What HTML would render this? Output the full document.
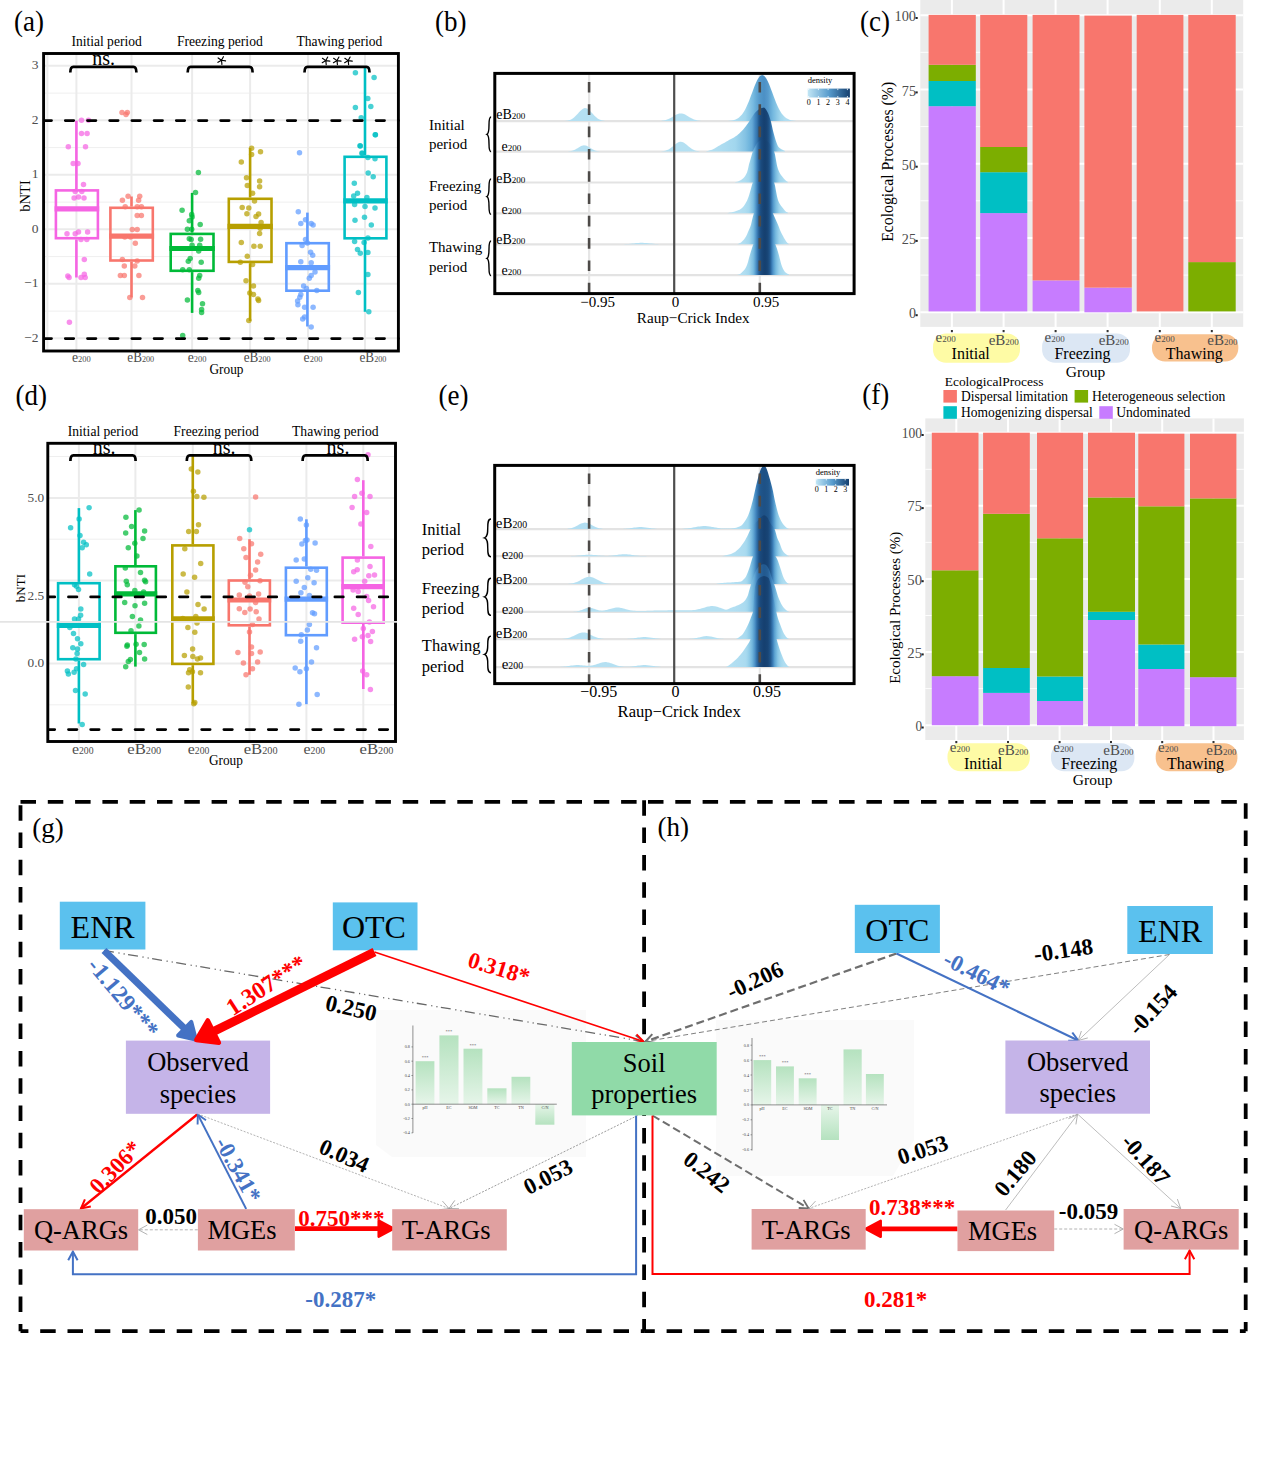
<!DOCTYPE html>
<html><head><meta charset="utf-8"><style>
html,body{margin:0;padding:0;background:#fff;overflow:hidden;}
svg{display:block;}
text{font-family:"Liberation Serif", serif;}
</style></head><body>
<svg width="1270" height="1476" viewBox="0 0 1270 1476">
<rect x="0" y="0" width="1270" height="1476" fill="#fff"/>
<line x1="43.6" y1="311.1" x2="398.4" y2="311.1" stroke="#EFEFEF" stroke-width="1" />
<line x1="43.6" y1="256.6" x2="398.4" y2="256.6" stroke="#EFEFEF" stroke-width="1" />
<line x1="43.6" y1="202.1" x2="398.4" y2="202.1" stroke="#EFEFEF" stroke-width="1" />
<line x1="43.6" y1="147.6" x2="398.4" y2="147.6" stroke="#EFEFEF" stroke-width="1" />
<line x1="43.6" y1="93.1" x2="398.4" y2="93.1" stroke="#EFEFEF" stroke-width="1" />
<line x1="43.6" y1="338.3" x2="398.4" y2="338.3" stroke="#EBEBEB" stroke-width="2" />
<line x1="43.6" y1="283.8" x2="398.4" y2="283.8" stroke="#EBEBEB" stroke-width="2" />
<line x1="43.6" y1="229.3" x2="398.4" y2="229.3" stroke="#EBEBEB" stroke-width="2" />
<line x1="43.6" y1="174.8" x2="398.4" y2="174.8" stroke="#EBEBEB" stroke-width="2" />
<line x1="43.6" y1="120.3" x2="398.4" y2="120.3" stroke="#EBEBEB" stroke-width="2" />
<line x1="43.6" y1="65.8" x2="398.4" y2="65.8" stroke="#EBEBEB" stroke-width="2" />
<line x1="47.4" y1="53.5" x2="47.4" y2="351.0" stroke="#EBEBEB" stroke-width="2" />
<line x1="76.4" y1="53.5" x2="76.4" y2="351.0" stroke="#EBEBEB" stroke-width="2" />
<line x1="131.5" y1="53.5" x2="131.5" y2="351.0" stroke="#EBEBEB" stroke-width="2" />
<line x1="192.1" y1="53.5" x2="192.1" y2="351.0" stroke="#EBEBEB" stroke-width="2" />
<line x1="250.1" y1="53.5" x2="250.1" y2="351.0" stroke="#EBEBEB" stroke-width="2" />
<line x1="308.0" y1="53.5" x2="308.0" y2="351.0" stroke="#EBEBEB" stroke-width="2" />
<line x1="365.0" y1="53.5" x2="365.0" y2="351.0" stroke="#EBEBEB" stroke-width="2" />
<line x1="76.4" y1="120.7" x2="76.4" y2="189.1" stroke="#F564E3" stroke-width="2.6" />
<line x1="76.4" y1="239.5" x2="76.4" y2="277.5" stroke="#F564E3" stroke-width="2.6" />
<rect x="55.9" y="190.4" width="42.0" height="47.8" fill="none" stroke="#F564E3" stroke-width="2.6"/>
<line x1="54.6" y1="208.9" x2="99.2" y2="208.9" stroke="#F564E3" stroke-width="5.2" />
<circle cx="81.5" cy="120.2" r="2.75" fill="#F564E3" fill-opacity="0.72"/>
<circle cx="88.5" cy="120.2" r="2.75" fill="#F564E3" fill-opacity="0.72"/>
<circle cx="81.5" cy="133.6" r="2.75" fill="#F564E3" fill-opacity="0.72"/>
<circle cx="87.1" cy="133.6" r="2.75" fill="#F564E3" fill-opacity="0.72"/>
<circle cx="68.3" cy="146.8" r="2.75" fill="#F564E3" fill-opacity="0.72"/>
<circle cx="85.5" cy="146.8" r="2.75" fill="#F564E3" fill-opacity="0.72"/>
<circle cx="73.2" cy="163.4" r="2.75" fill="#F564E3" fill-opacity="0.72"/>
<circle cx="78.0" cy="163.4" r="2.75" fill="#F564E3" fill-opacity="0.72"/>
<circle cx="83.5" cy="184.4" r="2.75" fill="#F564E3" fill-opacity="0.72"/>
<circle cx="75.2" cy="191.6" r="2.75" fill="#F564E3" fill-opacity="0.72"/>
<circle cx="81.8" cy="191.6" r="2.75" fill="#F564E3" fill-opacity="0.72"/>
<circle cx="74.1" cy="197.9" r="2.75" fill="#F564E3" fill-opacity="0.72"/>
<circle cx="78.5" cy="197.0" r="2.75" fill="#F564E3" fill-opacity="0.72"/>
<circle cx="84.0" cy="197.9" r="2.75" fill="#F564E3" fill-opacity="0.72"/>
<circle cx="67.0" cy="233.7" r="2.75" fill="#F564E3" fill-opacity="0.72"/>
<circle cx="75.2" cy="233.7" r="2.75" fill="#F564E3" fill-opacity="0.72"/>
<circle cx="78.5" cy="232.1" r="2.75" fill="#F564E3" fill-opacity="0.72"/>
<circle cx="87.6" cy="232.1" r="2.75" fill="#F564E3" fill-opacity="0.72"/>
<circle cx="81.0" cy="239.5" r="2.75" fill="#F564E3" fill-opacity="0.72"/>
<circle cx="86.8" cy="239.5" r="2.75" fill="#F564E3" fill-opacity="0.72"/>
<circle cx="84.3" cy="259.4" r="2.75" fill="#F564E3" fill-opacity="0.72"/>
<circle cx="67.8" cy="275.9" r="2.75" fill="#F564E3" fill-opacity="0.72"/>
<circle cx="69.1" cy="277.6" r="2.75" fill="#F564E3" fill-opacity="0.72"/>
<circle cx="81.0" cy="277.6" r="2.75" fill="#F564E3" fill-opacity="0.72"/>
<circle cx="84.3" cy="274.2" r="2.75" fill="#F564E3" fill-opacity="0.72"/>
<circle cx="85.2" cy="277.6" r="2.75" fill="#F564E3" fill-opacity="0.72"/>
<circle cx="69.4" cy="322.2" r="2.75" fill="#F564E3" fill-opacity="0.72"/>
<line x1="131.5" y1="196.5" x2="131.5" y2="206.5" stroke="#F8766D" stroke-width="2.6" />
<line x1="131.5" y1="261.8" x2="131.5" y2="297.4" stroke="#F8766D" stroke-width="2.6" />
<rect x="110.4" y="207.8" width="42.4" height="52.7" fill="none" stroke="#F8766D" stroke-width="2.6"/>
<line x1="109.1" y1="236.2" x2="154.1" y2="236.2" stroke="#F8766D" stroke-width="5.2" />
<circle cx="122.0" cy="112.4" r="2.75" fill="#F8766D" fill-opacity="0.72"/>
<circle cx="127.3" cy="112.4" r="2.75" fill="#F8766D" fill-opacity="0.72"/>
<circle cx="126.0" cy="114.4" r="2.75" fill="#F8766D" fill-opacity="0.72"/>
<circle cx="128.1" cy="196.2" r="2.75" fill="#F8766D" fill-opacity="0.72"/>
<circle cx="139.7" cy="196.2" r="2.75" fill="#F8766D" fill-opacity="0.72"/>
<circle cx="122.4" cy="200.3" r="2.75" fill="#F8766D" fill-opacity="0.72"/>
<circle cx="138.6" cy="200.3" r="2.75" fill="#F8766D" fill-opacity="0.72"/>
<circle cx="125.2" cy="206.8" r="2.75" fill="#F8766D" fill-opacity="0.72"/>
<circle cx="137.2" cy="206.8" r="2.75" fill="#F8766D" fill-opacity="0.72"/>
<circle cx="141.4" cy="206.8" r="2.75" fill="#F8766D" fill-opacity="0.72"/>
<circle cx="137.2" cy="215.5" r="2.75" fill="#F8766D" fill-opacity="0.72"/>
<circle cx="141.4" cy="215.5" r="2.75" fill="#F8766D" fill-opacity="0.72"/>
<circle cx="132.3" cy="229.6" r="2.75" fill="#F8766D" fill-opacity="0.72"/>
<circle cx="137.2" cy="229.6" r="2.75" fill="#F8766D" fill-opacity="0.72"/>
<circle cx="124.8" cy="237.0" r="2.75" fill="#F8766D" fill-opacity="0.72"/>
<circle cx="130.6" cy="237.0" r="2.75" fill="#F8766D" fill-opacity="0.72"/>
<circle cx="135.3" cy="243.2" r="2.75" fill="#F8766D" fill-opacity="0.72"/>
<circle cx="122.4" cy="259.4" r="2.75" fill="#F8766D" fill-opacity="0.72"/>
<circle cx="137.2" cy="261.0" r="2.75" fill="#F8766D" fill-opacity="0.72"/>
<circle cx="124.3" cy="266.0" r="2.75" fill="#F8766D" fill-opacity="0.72"/>
<circle cx="134.8" cy="266.0" r="2.75" fill="#F8766D" fill-opacity="0.72"/>
<circle cx="120.4" cy="275.4" r="2.75" fill="#F8766D" fill-opacity="0.72"/>
<circle cx="124.3" cy="275.4" r="2.75" fill="#F8766D" fill-opacity="0.72"/>
<circle cx="138.9" cy="275.4" r="2.75" fill="#F8766D" fill-opacity="0.72"/>
<circle cx="129.8" cy="297.4" r="2.75" fill="#F8766D" fill-opacity="0.72"/>
<circle cx="142.5" cy="297.4" r="2.75" fill="#F8766D" fill-opacity="0.72"/>
<line x1="192.1" y1="192.9" x2="192.1" y2="232.6" stroke="#00BA38" stroke-width="2.6" />
<line x1="192.1" y1="272.1" x2="192.1" y2="312.9" stroke="#00BA38" stroke-width="2.6" />
<rect x="170.7" y="233.9" width="42.8" height="36.9" fill="none" stroke="#00BA38" stroke-width="2.6"/>
<line x1="169.4" y1="248.5" x2="214.8" y2="248.5" stroke="#00BA38" stroke-width="5.2" />
<circle cx="198.4" cy="172.5" r="2.75" fill="#00BA38" fill-opacity="0.72"/>
<circle cx="195.5" cy="192.4" r="2.75" fill="#00BA38" fill-opacity="0.72"/>
<circle cx="182.1" cy="210.3" r="2.75" fill="#00BA38" fill-opacity="0.72"/>
<circle cx="191.7" cy="214.5" r="2.75" fill="#00BA38" fill-opacity="0.72"/>
<circle cx="192.1" cy="216.9" r="2.75" fill="#00BA38" fill-opacity="0.72"/>
<circle cx="189.3" cy="220.7" r="2.75" fill="#00BA38" fill-opacity="0.72"/>
<circle cx="200.2" cy="224.5" r="2.75" fill="#00BA38" fill-opacity="0.72"/>
<circle cx="187.4" cy="229.2" r="2.75" fill="#00BA38" fill-opacity="0.72"/>
<circle cx="191.7" cy="229.2" r="2.75" fill="#00BA38" fill-opacity="0.72"/>
<circle cx="189.3" cy="238.7" r="2.75" fill="#00BA38" fill-opacity="0.72"/>
<circle cx="191.2" cy="239.6" r="2.75" fill="#00BA38" fill-opacity="0.72"/>
<circle cx="200.6" cy="239.2" r="2.75" fill="#00BA38" fill-opacity="0.72"/>
<circle cx="192.1" cy="245.3" r="2.75" fill="#00BA38" fill-opacity="0.72"/>
<circle cx="199.7" cy="245.3" r="2.75" fill="#00BA38" fill-opacity="0.72"/>
<circle cx="198.7" cy="250.9" r="2.75" fill="#00BA38" fill-opacity="0.72"/>
<circle cx="190.2" cy="258.5" r="2.75" fill="#00BA38" fill-opacity="0.72"/>
<circle cx="188.3" cy="261.3" r="2.75" fill="#00BA38" fill-opacity="0.72"/>
<circle cx="201.2" cy="262.3" r="2.75" fill="#00BA38" fill-opacity="0.72"/>
<circle cx="182.7" cy="269.8" r="2.75" fill="#00BA38" fill-opacity="0.72"/>
<circle cx="189.3" cy="269.8" r="2.75" fill="#00BA38" fill-opacity="0.72"/>
<circle cx="199.7" cy="275.5" r="2.75" fill="#00BA38" fill-opacity="0.72"/>
<circle cx="198.7" cy="278.3" r="2.75" fill="#00BA38" fill-opacity="0.72"/>
<circle cx="197.8" cy="290.6" r="2.75" fill="#00BA38" fill-opacity="0.72"/>
<circle cx="198.7" cy="292.5" r="2.75" fill="#00BA38" fill-opacity="0.72"/>
<circle cx="187.4" cy="300.1" r="2.75" fill="#00BA38" fill-opacity="0.72"/>
<circle cx="202.5" cy="303.8" r="2.75" fill="#00BA38" fill-opacity="0.72"/>
<circle cx="201.6" cy="309.5" r="2.75" fill="#00BA38" fill-opacity="0.72"/>
<circle cx="201.6" cy="312.4" r="2.75" fill="#00BA38" fill-opacity="0.72"/>
<circle cx="182.7" cy="335.6" r="2.75" fill="#00BA38" fill-opacity="0.72"/>
<line x1="250.1" y1="148.0" x2="250.1" y2="197.5" stroke="#B79F00" stroke-width="2.6" />
<line x1="250.1" y1="263.2" x2="250.1" y2="320.9" stroke="#B79F00" stroke-width="2.6" />
<rect x="228.8" y="198.8" width="42.7" height="63.1" fill="none" stroke="#B79F00" stroke-width="2.6"/>
<line x1="227.5" y1="226.4" x2="272.8" y2="226.4" stroke="#B79F00" stroke-width="5.2" />
<circle cx="251.6" cy="148.3" r="2.75" fill="#B79F00" fill-opacity="0.72"/>
<circle cx="260.5" cy="151.7" r="2.75" fill="#B79F00" fill-opacity="0.72"/>
<circle cx="251.6" cy="154.6" r="2.75" fill="#B79F00" fill-opacity="0.72"/>
<circle cx="241.3" cy="162.1" r="2.75" fill="#B79F00" fill-opacity="0.72"/>
<circle cx="246.5" cy="177.8" r="2.75" fill="#B79F00" fill-opacity="0.72"/>
<circle cx="259.6" cy="181.0" r="2.75" fill="#B79F00" fill-opacity="0.72"/>
<circle cx="247.3" cy="185.4" r="2.75" fill="#B79F00" fill-opacity="0.72"/>
<circle cx="259.6" cy="186.7" r="2.75" fill="#B79F00" fill-opacity="0.72"/>
<circle cx="252.6" cy="193.3" r="2.75" fill="#B79F00" fill-opacity="0.72"/>
<circle cx="254.5" cy="200.9" r="2.75" fill="#B79F00" fill-opacity="0.72"/>
<circle cx="242.2" cy="207.5" r="2.75" fill="#B79F00" fill-opacity="0.72"/>
<circle cx="248.8" cy="207.9" r="2.75" fill="#B79F00" fill-opacity="0.72"/>
<circle cx="246.9" cy="213.7" r="2.75" fill="#B79F00" fill-opacity="0.72"/>
<circle cx="258.6" cy="214.1" r="2.75" fill="#B79F00" fill-opacity="0.72"/>
<circle cx="256.0" cy="216.4" r="2.75" fill="#B79F00" fill-opacity="0.72"/>
<circle cx="261.1" cy="222.6" r="2.75" fill="#B79F00" fill-opacity="0.72"/>
<circle cx="260.2" cy="228.3" r="2.75" fill="#B79F00" fill-opacity="0.72"/>
<circle cx="259.6" cy="233.6" r="2.75" fill="#B79F00" fill-opacity="0.72"/>
<circle cx="241.3" cy="242.4" r="2.75" fill="#B79F00" fill-opacity="0.72"/>
<circle cx="253.9" cy="246.2" r="2.75" fill="#B79F00" fill-opacity="0.72"/>
<circle cx="260.2" cy="246.2" r="2.75" fill="#B79F00" fill-opacity="0.72"/>
<circle cx="247.3" cy="256.2" r="2.75" fill="#B79F00" fill-opacity="0.72"/>
<circle cx="240.3" cy="262.3" r="2.75" fill="#B79F00" fill-opacity="0.72"/>
<circle cx="252.6" cy="264.5" r="2.75" fill="#B79F00" fill-opacity="0.72"/>
<circle cx="246.0" cy="280.8" r="2.75" fill="#B79F00" fill-opacity="0.72"/>
<circle cx="253.5" cy="285.9" r="2.75" fill="#B79F00" fill-opacity="0.72"/>
<circle cx="249.8" cy="292.9" r="2.75" fill="#B79F00" fill-opacity="0.72"/>
<circle cx="253.5" cy="294.4" r="2.75" fill="#B79F00" fill-opacity="0.72"/>
<circle cx="257.9" cy="299.1" r="2.75" fill="#B79F00" fill-opacity="0.72"/>
<circle cx="258.6" cy="300.4" r="2.75" fill="#B79F00" fill-opacity="0.72"/>
<circle cx="248.8" cy="320.5" r="2.75" fill="#B79F00" fill-opacity="0.72"/>
<line x1="307.4" y1="212.6" x2="307.4" y2="241.9" stroke="#619CFF" stroke-width="2.6" />
<line x1="307.4" y1="292.0" x2="307.4" y2="326.5" stroke="#619CFF" stroke-width="2.6" />
<rect x="286.4" y="243.2" width="42.4" height="47.5" fill="none" stroke="#619CFF" stroke-width="2.6"/>
<line x1="285.1" y1="267.6" x2="330.1" y2="267.6" stroke="#619CFF" stroke-width="5.2" />
<circle cx="299.5" cy="152.7" r="2.75" fill="#619CFF" fill-opacity="0.72"/>
<circle cx="298.3" cy="211.8" r="2.75" fill="#619CFF" fill-opacity="0.72"/>
<circle cx="305.5" cy="219.8" r="2.75" fill="#619CFF" fill-opacity="0.72"/>
<circle cx="300.8" cy="223.5" r="2.75" fill="#619CFF" fill-opacity="0.72"/>
<circle cx="311.2" cy="223.5" r="2.75" fill="#619CFF" fill-opacity="0.72"/>
<circle cx="313.1" cy="224.9" r="2.75" fill="#619CFF" fill-opacity="0.72"/>
<circle cx="305.5" cy="239.6" r="2.75" fill="#619CFF" fill-opacity="0.72"/>
<circle cx="307.4" cy="243.0" r="2.75" fill="#619CFF" fill-opacity="0.72"/>
<circle cx="302.1" cy="245.6" r="2.75" fill="#619CFF" fill-opacity="0.72"/>
<circle cx="310.6" cy="252.3" r="2.75" fill="#619CFF" fill-opacity="0.72"/>
<circle cx="312.7" cy="255.3" r="2.75" fill="#619CFF" fill-opacity="0.72"/>
<circle cx="300.8" cy="261.7" r="2.75" fill="#619CFF" fill-opacity="0.72"/>
<circle cx="311.2" cy="262.8" r="2.75" fill="#619CFF" fill-opacity="0.72"/>
<circle cx="315.0" cy="272.1" r="2.75" fill="#619CFF" fill-opacity="0.72"/>
<circle cx="311.2" cy="275.5" r="2.75" fill="#619CFF" fill-opacity="0.72"/>
<circle cx="309.3" cy="278.3" r="2.75" fill="#619CFF" fill-opacity="0.72"/>
<circle cx="303.6" cy="285.9" r="2.75" fill="#619CFF" fill-opacity="0.72"/>
<circle cx="306.4" cy="288.4" r="2.75" fill="#619CFF" fill-opacity="0.72"/>
<circle cx="316.8" cy="290.6" r="2.75" fill="#619CFF" fill-opacity="0.72"/>
<circle cx="300.8" cy="294.4" r="2.75" fill="#619CFF" fill-opacity="0.72"/>
<circle cx="299.8" cy="297.2" r="2.75" fill="#619CFF" fill-opacity="0.72"/>
<circle cx="297.6" cy="301.0" r="2.75" fill="#619CFF" fill-opacity="0.72"/>
<circle cx="297.9" cy="304.8" r="2.75" fill="#619CFF" fill-opacity="0.72"/>
<circle cx="304.6" cy="307.2" r="2.75" fill="#619CFF" fill-opacity="0.72"/>
<circle cx="313.1" cy="307.2" r="2.75" fill="#619CFF" fill-opacity="0.72"/>
<circle cx="304.6" cy="317.1" r="2.75" fill="#619CFF" fill-opacity="0.72"/>
<circle cx="302.7" cy="319.0" r="2.75" fill="#619CFF" fill-opacity="0.72"/>
<circle cx="311.2" cy="327.1" r="2.75" fill="#619CFF" fill-opacity="0.72"/>
<line x1="365.0" y1="67.8" x2="365.0" y2="155.5" stroke="#00BFC4" stroke-width="2.6" />
<line x1="365.0" y1="239.6" x2="365.0" y2="311.8" stroke="#00BFC4" stroke-width="2.6" />
<rect x="344.6" y="156.8" width="41.8" height="81.5" fill="none" stroke="#00BFC4" stroke-width="2.6"/>
<line x1="343.3" y1="200.9" x2="387.7" y2="200.9" stroke="#00BFC4" stroke-width="5.2" />
<circle cx="375.4" cy="134.7" r="2.75" fill="#00BFC4" fill-opacity="0.72"/>
<circle cx="360.3" cy="146.1" r="2.75" fill="#00BFC4" fill-opacity="0.72"/>
<circle cx="362.2" cy="153.6" r="2.75" fill="#00BFC4" fill-opacity="0.72"/>
<circle cx="367.9" cy="157.4" r="2.75" fill="#00BFC4" fill-opacity="0.72"/>
<circle cx="375.0" cy="158.7" r="2.75" fill="#00BFC4" fill-opacity="0.72"/>
<circle cx="368.2" cy="173.1" r="2.75" fill="#00BFC4" fill-opacity="0.72"/>
<circle cx="373.2" cy="176.7" r="2.75" fill="#00BFC4" fill-opacity="0.72"/>
<circle cx="354.3" cy="183.3" r="2.75" fill="#00BFC4" fill-opacity="0.72"/>
<circle cx="357.5" cy="193.3" r="2.75" fill="#00BFC4" fill-opacity="0.72"/>
<circle cx="353.7" cy="196.1" r="2.75" fill="#00BFC4" fill-opacity="0.72"/>
<circle cx="366.9" cy="197.6" r="2.75" fill="#00BFC4" fill-opacity="0.72"/>
<circle cx="354.6" cy="204.6" r="2.75" fill="#00BFC4" fill-opacity="0.72"/>
<circle cx="365.0" cy="206.5" r="2.75" fill="#00BFC4" fill-opacity="0.72"/>
<circle cx="375.0" cy="208.0" r="2.75" fill="#00BFC4" fill-opacity="0.72"/>
<circle cx="355.0" cy="220.3" r="2.75" fill="#00BFC4" fill-opacity="0.72"/>
<circle cx="364.5" cy="217.3" r="2.75" fill="#00BFC4" fill-opacity="0.72"/>
<circle cx="371.3" cy="225.0" r="2.75" fill="#00BFC4" fill-opacity="0.72"/>
<circle cx="367.9" cy="238.1" r="2.75" fill="#00BFC4" fill-opacity="0.72"/>
<circle cx="354.6" cy="241.5" r="2.75" fill="#00BFC4" fill-opacity="0.72"/>
<circle cx="364.1" cy="242.4" r="2.75" fill="#00BFC4" fill-opacity="0.72"/>
<circle cx="357.5" cy="249.4" r="2.75" fill="#00BFC4" fill-opacity="0.72"/>
<circle cx="360.3" cy="253.2" r="2.75" fill="#00BFC4" fill-opacity="0.72"/>
<circle cx="367.9" cy="252.4" r="2.75" fill="#00BFC4" fill-opacity="0.72"/>
<circle cx="367.9" cy="274.6" r="2.75" fill="#00BFC4" fill-opacity="0.72"/>
<circle cx="358.4" cy="292.5" r="2.75" fill="#00BFC4" fill-opacity="0.72"/>
<circle cx="368.8" cy="311.8" r="2.75" fill="#00BFC4" fill-opacity="0.72"/>
<circle cx="355.4" cy="72.8" r="2.75" fill="#00BFC4" fill-opacity="0.72"/>
<circle cx="374.1" cy="77.4" r="2.75" fill="#00BFC4" fill-opacity="0.72"/>
<circle cx="367.8" cy="98.4" r="2.75" fill="#00BFC4" fill-opacity="0.72"/>
<circle cx="355.4" cy="107.5" r="2.75" fill="#00BFC4" fill-opacity="0.72"/>
<circle cx="370.8" cy="106.6" r="2.75" fill="#00BFC4" fill-opacity="0.72"/>
<circle cx="361.2" cy="117.7" r="2.75" fill="#00BFC4" fill-opacity="0.72"/>
<circle cx="375.3" cy="134.8" r="2.75" fill="#00BFC4" fill-opacity="0.72"/>
<circle cx="360.0" cy="145.8" r="2.75" fill="#00BFC4" fill-opacity="0.72"/>
<circle cx="362.0" cy="153.0" r="2.75" fill="#00BFC4" fill-opacity="0.72"/>
<line x1="45.0" y1="120.6" x2="398.4" y2="120.6" stroke="#000" stroke-width="2.8" stroke-dasharray="8.4 13.8" stroke-linecap="round" stroke-dashoffset="1.9"/>
<line x1="45.0" y1="338.6" x2="398.4" y2="338.6" stroke="#000" stroke-width="2.8" stroke-dasharray="8.4 13.8" stroke-linecap="round" stroke-dashoffset="1.9"/>
<rect x="43.6" y="53.5" width="354.8" height="297.5" fill="none" stroke="#000" stroke-width="2.9"/>
<path d="M70.3,72.6 Q70.3,66.9 73.3,66.9 L133.4,66.9 Q136.4,66.9 136.4,72.6" fill="none" stroke="#000" stroke-width="2.7"/>
<path d="M187.7,72.6 Q187.7,66.9 190.7,66.9 L249.6,66.9 Q252.6,66.9 252.6,72.6" fill="none" stroke="#000" stroke-width="2.7"/>
<path d="M304.5,72.6 Q304.5,66.9 307.5,66.9 L366.5,66.9 Q369.5,66.9 369.5,72.6" fill="none" stroke="#000" stroke-width="2.7"/>
<text x="103.6" y="65.3" font-size="20" text-anchor="middle" fill="#000" font-weight="normal" >ns.</text>
<path d="M221.50,60.30 L223.42,56.68 M221.50,60.30 L225.56,60.87 M221.50,60.30 L221.93,64.38 M221.50,60.30 L217.95,62.35 M221.50,60.30 L218.14,57.95 " stroke="#000" stroke-width="1.15" fill="none" stroke-linecap="round"/>
<path d="M325.80,60.60 L327.72,56.98 M325.80,60.60 L329.86,61.17 M325.80,60.60 L326.23,64.68 M325.80,60.60 L322.25,62.65 M325.80,60.60 L322.44,58.25 " stroke="#000" stroke-width="1.15" fill="none" stroke-linecap="round"/>
<path d="M337.00,60.60 L338.92,56.98 M337.00,60.60 L341.06,61.17 M337.00,60.60 L337.43,64.68 M337.00,60.60 L333.45,62.65 M337.00,60.60 L333.64,58.25 " stroke="#000" stroke-width="1.15" fill="none" stroke-linecap="round"/>
<path d="M348.20,60.60 L350.12,56.98 M348.20,60.60 L352.26,61.17 M348.20,60.60 L348.63,64.68 M348.20,60.60 L344.65,62.65 M348.20,60.60 L344.84,58.25 " stroke="#000" stroke-width="1.15" fill="none" stroke-linecap="round"/>
<text x="71.4" y="45.8" font-size="14.5" text-anchor="start" fill="#000" font-weight="normal"  textLength="70.3" lengthAdjust="spacingAndGlyphs">Initial period</text>
<text x="176.9" y="45.8" font-size="14.5" text-anchor="start" fill="#000" font-weight="normal"  textLength="85.9" lengthAdjust="spacingAndGlyphs">Freezing period</text>
<text x="296.4" y="45.8" font-size="14.5" text-anchor="start" fill="#000" font-weight="normal"  textLength="86" lengthAdjust="spacingAndGlyphs">Thawing period</text>
<text x="38.5" y="69.3" font-size="13.5" text-anchor="end" fill="#4D4D4D" font-weight="normal" >3</text>
<text x="38.5" y="123.8" font-size="13.5" text-anchor="end" fill="#4D4D4D" font-weight="normal" >2</text>
<text x="38.5" y="178.3" font-size="13.5" text-anchor="end" fill="#4D4D4D" font-weight="normal" >1</text>
<text x="38.5" y="232.8" font-size="13.5" text-anchor="end" fill="#4D4D4D" font-weight="normal" >0</text>
<text x="38.5" y="287.3" font-size="13.5" text-anchor="end" fill="#4D4D4D" font-weight="normal" >−1</text>
<text x="38.5" y="341.8" font-size="13.5" text-anchor="end" fill="#4D4D4D" font-weight="normal" >−2</text>
<text x="71.9" y="362.0" font-size="14.5" fill="#4D4D4D" textLength="18.8" lengthAdjust="spacingAndGlyphs">e<tspan font-size="9">200</tspan></text>
<text x="127.3" y="362.0" font-size="14.5" fill="#4D4D4D" textLength="26.9" lengthAdjust="spacingAndGlyphs">eB<tspan font-size="9">200</tspan></text>
<text x="187.8" y="362.0" font-size="14.5" fill="#4D4D4D" textLength="18.8" lengthAdjust="spacingAndGlyphs">e<tspan font-size="9">200</tspan></text>
<text x="243.7" y="362.0" font-size="14.5" fill="#4D4D4D" textLength="26.9" lengthAdjust="spacingAndGlyphs">eB<tspan font-size="9">200</tspan></text>
<text x="303.6" y="362.0" font-size="14.5" fill="#4D4D4D" textLength="18.8" lengthAdjust="spacingAndGlyphs">e<tspan font-size="9">200</tspan></text>
<text x="359.5" y="362.0" font-size="14.5" fill="#4D4D4D" textLength="26.9" lengthAdjust="spacingAndGlyphs">eB<tspan font-size="9">200</tspan></text>
<text x="226.5" y="373.5" font-size="14.5" text-anchor="middle" fill="#000" font-weight="normal"  textLength="34" lengthAdjust="spacingAndGlyphs">Group</text>
<text x="0" y="0" font-size="14.5" text-anchor="middle" transform="translate(29.8,196.0) rotate(-90)">bNTI</text>
<line x1="47.8" y1="704.8" x2="395.5" y2="704.8" stroke="#EFEFEF" stroke-width="1" />
<line x1="47.8" y1="539.2" x2="395.5" y2="539.2" stroke="#EFEFEF" stroke-width="1" />
<line x1="47.8" y1="456.5" x2="395.5" y2="456.5" stroke="#EFEFEF" stroke-width="1" />
<line x1="47.8" y1="663.6" x2="395.5" y2="663.6" stroke="#EBEBEB" stroke-width="2" />
<line x1="47.8" y1="580.5" x2="395.5" y2="580.5" stroke="#EBEBEB" stroke-width="2" />
<line x1="47.8" y1="497.9" x2="395.5" y2="497.9" stroke="#EBEBEB" stroke-width="2" />
<line x1="78.9" y1="443.3" x2="78.9" y2="741.5" stroke="#EBEBEB" stroke-width="2" />
<line x1="135.4" y1="443.3" x2="135.4" y2="741.5" stroke="#EBEBEB" stroke-width="2" />
<line x1="192.8" y1="443.3" x2="192.8" y2="741.5" stroke="#EBEBEB" stroke-width="2" />
<line x1="249.5" y1="443.3" x2="249.5" y2="741.5" stroke="#EBEBEB" stroke-width="2" />
<line x1="306.4" y1="443.3" x2="306.4" y2="741.5" stroke="#EBEBEB" stroke-width="2" />
<line x1="363.3" y1="443.3" x2="363.3" y2="741.5" stroke="#EBEBEB" stroke-width="2" />
<line x1="78.9" y1="508.1" x2="78.9" y2="581.9" stroke="#00BFC4" stroke-width="2.6" />
<line x1="78.9" y1="660.5" x2="78.9" y2="723.5" stroke="#00BFC4" stroke-width="2.6" />
<rect x="58.1" y="583.2" width="41.5" height="76.0" fill="none" stroke="#00BFC4" stroke-width="2.6"/>
<line x1="56.8" y1="625.4" x2="100.9" y2="625.4" stroke="#00BFC4" stroke-width="5.2" />
<circle cx="89.1" cy="507.7" r="2.75" fill="#00BFC4" fill-opacity="0.72"/>
<circle cx="79.1" cy="518.9" r="2.75" fill="#00BFC4" fill-opacity="0.72"/>
<circle cx="70.6" cy="527.8" r="2.75" fill="#00BFC4" fill-opacity="0.72"/>
<circle cx="80.0" cy="535.5" r="2.75" fill="#00BFC4" fill-opacity="0.72"/>
<circle cx="83.6" cy="542.2" r="2.75" fill="#00BFC4" fill-opacity="0.72"/>
<circle cx="86.3" cy="544.7" r="2.75" fill="#00BFC4" fill-opacity="0.72"/>
<circle cx="82.2" cy="547.7" r="2.75" fill="#00BFC4" fill-opacity="0.72"/>
<circle cx="89.7" cy="574.1" r="2.75" fill="#00BFC4" fill-opacity="0.72"/>
<circle cx="74.5" cy="584.7" r="2.75" fill="#00BFC4" fill-opacity="0.72"/>
<circle cx="76.5" cy="586.3" r="2.75" fill="#00BFC4" fill-opacity="0.72"/>
<circle cx="78.5" cy="589.4" r="2.75" fill="#00BFC4" fill-opacity="0.72"/>
<circle cx="80.8" cy="609.1" r="2.75" fill="#00BFC4" fill-opacity="0.72"/>
<circle cx="80.6" cy="615.2" r="2.75" fill="#00BFC4" fill-opacity="0.72"/>
<circle cx="74.5" cy="618.9" r="2.75" fill="#00BFC4" fill-opacity="0.72"/>
<circle cx="78.5" cy="618.9" r="2.75" fill="#00BFC4" fill-opacity="0.72"/>
<circle cx="69.8" cy="627.4" r="2.75" fill="#00BFC4" fill-opacity="0.72"/>
<circle cx="73.5" cy="633.5" r="2.75" fill="#00BFC4" fill-opacity="0.72"/>
<circle cx="77.5" cy="638.8" r="2.75" fill="#00BFC4" fill-opacity="0.72"/>
<circle cx="80.8" cy="643.7" r="2.75" fill="#00BFC4" fill-opacity="0.72"/>
<circle cx="72.8" cy="647.7" r="2.75" fill="#00BFC4" fill-opacity="0.72"/>
<circle cx="77.5" cy="648.9" r="2.75" fill="#00BFC4" fill-opacity="0.72"/>
<circle cx="77.1" cy="653.4" r="2.75" fill="#00BFC4" fill-opacity="0.72"/>
<circle cx="75.9" cy="659.1" r="2.75" fill="#00BFC4" fill-opacity="0.72"/>
<circle cx="83.6" cy="664.6" r="2.75" fill="#00BFC4" fill-opacity="0.72"/>
<circle cx="76.5" cy="668.7" r="2.75" fill="#00BFC4" fill-opacity="0.72"/>
<circle cx="67.4" cy="671.1" r="2.75" fill="#00BFC4" fill-opacity="0.72"/>
<circle cx="68.4" cy="674.1" r="2.75" fill="#00BFC4" fill-opacity="0.72"/>
<circle cx="74.1" cy="672.3" r="2.75" fill="#00BFC4" fill-opacity="0.72"/>
<circle cx="75.5" cy="690.4" r="2.75" fill="#00BFC4" fill-opacity="0.72"/>
<circle cx="85.2" cy="694.1" r="2.75" fill="#00BFC4" fill-opacity="0.72"/>
<circle cx="82.2" cy="724.6" r="2.75" fill="#00BFC4" fill-opacity="0.72"/>
<line x1="135.4" y1="510.1" x2="135.4" y2="565.0" stroke="#00BA38" stroke-width="2.6" />
<line x1="135.4" y1="634.1" x2="135.4" y2="666.6" stroke="#00BA38" stroke-width="2.6" />
<rect x="115.4" y="566.3" width="40.5" height="66.5" fill="none" stroke="#00BA38" stroke-width="2.6"/>
<line x1="114.1" y1="593.9" x2="157.2" y2="593.9" stroke="#00BA38" stroke-width="5.2" />
<circle cx="139.1" cy="510.1" r="2.75" fill="#00BA38" fill-opacity="0.72"/>
<circle cx="125.9" cy="517.2" r="2.75" fill="#00BA38" fill-opacity="0.72"/>
<circle cx="131.6" cy="526.4" r="2.75" fill="#00BA38" fill-opacity="0.72"/>
<circle cx="144.6" cy="530.9" r="2.75" fill="#00BA38" fill-opacity="0.72"/>
<circle cx="125.7" cy="533.1" r="2.75" fill="#00BA38" fill-opacity="0.72"/>
<circle cx="143.0" cy="538.6" r="2.75" fill="#00BA38" fill-opacity="0.72"/>
<circle cx="134.8" cy="543.3" r="2.75" fill="#00BA38" fill-opacity="0.72"/>
<circle cx="128.3" cy="547.7" r="2.75" fill="#00BA38" fill-opacity="0.72"/>
<circle cx="136.9" cy="555.9" r="2.75" fill="#00BA38" fill-opacity="0.72"/>
<circle cx="125.3" cy="568.0" r="2.75" fill="#00BA38" fill-opacity="0.72"/>
<circle cx="140.5" cy="572.5" r="2.75" fill="#00BA38" fill-opacity="0.72"/>
<circle cx="126.3" cy="581.3" r="2.75" fill="#00BA38" fill-opacity="0.72"/>
<circle cx="127.3" cy="584.7" r="2.75" fill="#00BA38" fill-opacity="0.72"/>
<circle cx="144.6" cy="580.2" r="2.75" fill="#00BA38" fill-opacity="0.72"/>
<circle cx="145.6" cy="581.7" r="2.75" fill="#00BA38" fill-opacity="0.72"/>
<circle cx="134.8" cy="590.4" r="2.75" fill="#00BA38" fill-opacity="0.72"/>
<circle cx="143.6" cy="592.0" r="2.75" fill="#00BA38" fill-opacity="0.72"/>
<circle cx="124.7" cy="602.6" r="2.75" fill="#00BA38" fill-opacity="0.72"/>
<circle cx="135.0" cy="605.7" r="2.75" fill="#00BA38" fill-opacity="0.72"/>
<circle cx="144.6" cy="603.2" r="2.75" fill="#00BA38" fill-opacity="0.72"/>
<circle cx="132.4" cy="616.4" r="2.75" fill="#00BA38" fill-opacity="0.72"/>
<circle cx="140.5" cy="619.9" r="2.75" fill="#00BA38" fill-opacity="0.72"/>
<circle cx="138.9" cy="626.0" r="2.75" fill="#00BA38" fill-opacity="0.72"/>
<circle cx="131.0" cy="630.7" r="2.75" fill="#00BA38" fill-opacity="0.72"/>
<circle cx="127.3" cy="644.9" r="2.75" fill="#00BA38" fill-opacity="0.72"/>
<circle cx="136.1" cy="644.3" r="2.75" fill="#00BA38" fill-opacity="0.72"/>
<circle cx="144.2" cy="644.5" r="2.75" fill="#00BA38" fill-opacity="0.72"/>
<circle cx="126.9" cy="646.3" r="2.75" fill="#00BA38" fill-opacity="0.72"/>
<circle cx="139.5" cy="652.6" r="2.75" fill="#00BA38" fill-opacity="0.72"/>
<circle cx="144.6" cy="659.1" r="2.75" fill="#00BA38" fill-opacity="0.72"/>
<circle cx="130.4" cy="659.5" r="2.75" fill="#00BA38" fill-opacity="0.72"/>
<circle cx="128.3" cy="661.5" r="2.75" fill="#00BA38" fill-opacity="0.72"/>
<circle cx="125.7" cy="666.8" r="2.75" fill="#00BA38" fill-opacity="0.72"/>
<line x1="192.8" y1="454.2" x2="192.8" y2="544.1" stroke="#B79F00" stroke-width="2.6" />
<line x1="192.8" y1="665.2" x2="192.8" y2="703.2" stroke="#B79F00" stroke-width="2.6" />
<rect x="172.3" y="545.4" width="41.1" height="118.5" fill="none" stroke="#B79F00" stroke-width="2.6"/>
<line x1="171.0" y1="618.9" x2="214.7" y2="618.9" stroke="#B79F00" stroke-width="5.2" />
<circle cx="191.3" cy="469.1" r="2.75" fill="#B79F00" fill-opacity="0.72"/>
<circle cx="197.8" cy="472.1" r="2.75" fill="#B79F00" fill-opacity="0.72"/>
<circle cx="193.4" cy="491.2" r="2.75" fill="#B79F00" fill-opacity="0.72"/>
<circle cx="196.8" cy="496.5" r="2.75" fill="#B79F00" fill-opacity="0.72"/>
<circle cx="203.9" cy="497.3" r="2.75" fill="#B79F00" fill-opacity="0.72"/>
<circle cx="198.5" cy="524.8" r="2.75" fill="#B79F00" fill-opacity="0.72"/>
<circle cx="188.7" cy="531.5" r="2.75" fill="#B79F00" fill-opacity="0.72"/>
<circle cx="196.4" cy="531.5" r="2.75" fill="#B79F00" fill-opacity="0.72"/>
<circle cx="184.8" cy="548.7" r="2.75" fill="#B79F00" fill-opacity="0.72"/>
<circle cx="200.7" cy="563.6" r="2.75" fill="#B79F00" fill-opacity="0.72"/>
<circle cx="183.2" cy="574.1" r="2.75" fill="#B79F00" fill-opacity="0.72"/>
<circle cx="194.6" cy="577.2" r="2.75" fill="#B79F00" fill-opacity="0.72"/>
<circle cx="186.9" cy="592.0" r="2.75" fill="#B79F00" fill-opacity="0.72"/>
<circle cx="198.0" cy="604.6" r="2.75" fill="#B79F00" fill-opacity="0.72"/>
<circle cx="204.1" cy="609.1" r="2.75" fill="#B79F00" fill-opacity="0.72"/>
<circle cx="182.8" cy="618.5" r="2.75" fill="#B79F00" fill-opacity="0.72"/>
<circle cx="195.8" cy="616.4" r="2.75" fill="#B79F00" fill-opacity="0.72"/>
<circle cx="197.0" cy="622.9" r="2.75" fill="#B79F00" fill-opacity="0.72"/>
<circle cx="187.9" cy="627.4" r="2.75" fill="#B79F00" fill-opacity="0.72"/>
<circle cx="194.8" cy="632.3" r="2.75" fill="#B79F00" fill-opacity="0.72"/>
<circle cx="192.6" cy="648.9" r="2.75" fill="#B79F00" fill-opacity="0.72"/>
<circle cx="184.4" cy="655.4" r="2.75" fill="#B79F00" fill-opacity="0.72"/>
<circle cx="192.8" cy="656.5" r="2.75" fill="#B79F00" fill-opacity="0.72"/>
<circle cx="197.4" cy="659.1" r="2.75" fill="#B79F00" fill-opacity="0.72"/>
<circle cx="200.5" cy="658.1" r="2.75" fill="#B79F00" fill-opacity="0.72"/>
<circle cx="189.7" cy="669.7" r="2.75" fill="#B79F00" fill-opacity="0.72"/>
<circle cx="188.5" cy="672.7" r="2.75" fill="#B79F00" fill-opacity="0.72"/>
<circle cx="200.5" cy="672.7" r="2.75" fill="#B79F00" fill-opacity="0.72"/>
<circle cx="192.4" cy="671.7" r="2.75" fill="#B79F00" fill-opacity="0.72"/>
<circle cx="188.3" cy="687.0" r="2.75" fill="#B79F00" fill-opacity="0.72"/>
<circle cx="194.8" cy="702.6" r="2.75" fill="#B79F00" fill-opacity="0.72"/>
<circle cx="193.8" cy="703.8" r="2.75" fill="#B79F00" fill-opacity="0.72"/>
<line x1="249.5" y1="539.2" x2="249.5" y2="579.2" stroke="#F8766D" stroke-width="2.6" />
<line x1="249.5" y1="626.6" x2="249.5" y2="674.8" stroke="#F8766D" stroke-width="2.6" />
<rect x="228.8" y="580.5" width="41.1" height="44.8" fill="none" stroke="#F8766D" stroke-width="2.6"/>
<line x1="227.5" y1="600.0" x2="271.2" y2="600.0" stroke="#F8766D" stroke-width="5.2" />
<circle cx="255.6" cy="496.9" r="2.75" fill="#F8766D" fill-opacity="0.72"/>
<circle cx="239.7" cy="538.6" r="2.75" fill="#F8766D" fill-opacity="0.72"/>
<circle cx="251.5" cy="543.7" r="2.75" fill="#F8766D" fill-opacity="0.72"/>
<circle cx="243.8" cy="548.7" r="2.75" fill="#F8766D" fill-opacity="0.72"/>
<circle cx="260.7" cy="554.2" r="2.75" fill="#F8766D" fill-opacity="0.72"/>
<circle cx="246.0" cy="557.5" r="2.75" fill="#F8766D" fill-opacity="0.72"/>
<circle cx="257.6" cy="562.0" r="2.75" fill="#F8766D" fill-opacity="0.72"/>
<circle cx="255.6" cy="570.1" r="2.75" fill="#F8766D" fill-opacity="0.72"/>
<circle cx="250.5" cy="575.2" r="2.75" fill="#F8766D" fill-opacity="0.72"/>
<circle cx="260.0" cy="580.7" r="2.75" fill="#F8766D" fill-opacity="0.72"/>
<circle cx="245.0" cy="582.3" r="2.75" fill="#F8766D" fill-opacity="0.72"/>
<circle cx="247.8" cy="586.7" r="2.75" fill="#F8766D" fill-opacity="0.72"/>
<circle cx="239.3" cy="594.9" r="2.75" fill="#F8766D" fill-opacity="0.72"/>
<circle cx="258.6" cy="593.9" r="2.75" fill="#F8766D" fill-opacity="0.72"/>
<circle cx="249.5" cy="595.9" r="2.75" fill="#F8766D" fill-opacity="0.72"/>
<circle cx="255.6" cy="602.6" r="2.75" fill="#F8766D" fill-opacity="0.72"/>
<circle cx="239.3" cy="608.7" r="2.75" fill="#F8766D" fill-opacity="0.72"/>
<circle cx="250.1" cy="609.1" r="2.75" fill="#F8766D" fill-opacity="0.72"/>
<circle cx="244.8" cy="612.4" r="2.75" fill="#F8766D" fill-opacity="0.72"/>
<circle cx="256.2" cy="611.7" r="2.75" fill="#F8766D" fill-opacity="0.72"/>
<circle cx="259.0" cy="618.9" r="2.75" fill="#F8766D" fill-opacity="0.72"/>
<circle cx="252.5" cy="624.6" r="2.75" fill="#F8766D" fill-opacity="0.72"/>
<circle cx="249.5" cy="632.1" r="2.75" fill="#F8766D" fill-opacity="0.72"/>
<circle cx="251.5" cy="646.9" r="2.75" fill="#F8766D" fill-opacity="0.72"/>
<circle cx="237.9" cy="652.6" r="2.75" fill="#F8766D" fill-opacity="0.72"/>
<circle cx="251.5" cy="653.4" r="2.75" fill="#F8766D" fill-opacity="0.72"/>
<circle cx="260.2" cy="652.0" r="2.75" fill="#F8766D" fill-opacity="0.72"/>
<circle cx="257.6" cy="662.0" r="2.75" fill="#F8766D" fill-opacity="0.72"/>
<circle cx="243.4" cy="663.0" r="2.75" fill="#F8766D" fill-opacity="0.72"/>
<circle cx="252.5" cy="668.7" r="2.75" fill="#F8766D" fill-opacity="0.72"/>
<circle cx="246.0" cy="674.8" r="2.75" fill="#F8766D" fill-opacity="0.72"/>
<line x1="306.4" y1="519.3" x2="306.4" y2="566.4" stroke="#619CFF" stroke-width="2.6" />
<line x1="306.4" y1="636.5" x2="306.4" y2="704.2" stroke="#619CFF" stroke-width="2.6" />
<rect x="285.9" y="567.7" width="40.9" height="67.5" fill="none" stroke="#619CFF" stroke-width="2.6"/>
<line x1="284.6" y1="599.1" x2="328.1" y2="599.1" stroke="#619CFF" stroke-width="5.2" />
<circle cx="300.3" cy="518.9" r="2.75" fill="#619CFF" fill-opacity="0.72"/>
<circle cx="306.4" cy="525.0" r="2.75" fill="#619CFF" fill-opacity="0.72"/>
<circle cx="301.9" cy="544.1" r="2.75" fill="#619CFF" fill-opacity="0.72"/>
<circle cx="305.4" cy="540.6" r="2.75" fill="#619CFF" fill-opacity="0.72"/>
<circle cx="307.0" cy="540.0" r="2.75" fill="#619CFF" fill-opacity="0.72"/>
<circle cx="315.1" cy="543.0" r="2.75" fill="#619CFF" fill-opacity="0.72"/>
<circle cx="296.2" cy="559.9" r="2.75" fill="#619CFF" fill-opacity="0.72"/>
<circle cx="304.3" cy="558.9" r="2.75" fill="#619CFF" fill-opacity="0.72"/>
<circle cx="310.7" cy="569.3" r="2.75" fill="#619CFF" fill-opacity="0.72"/>
<circle cx="316.5" cy="570.3" r="2.75" fill="#619CFF" fill-opacity="0.72"/>
<circle cx="296.2" cy="581.3" r="2.75" fill="#619CFF" fill-opacity="0.72"/>
<circle cx="307.8" cy="577.8" r="2.75" fill="#619CFF" fill-opacity="0.72"/>
<circle cx="314.1" cy="582.7" r="2.75" fill="#619CFF" fill-opacity="0.72"/>
<circle cx="304.3" cy="587.4" r="2.75" fill="#619CFF" fill-opacity="0.72"/>
<circle cx="300.9" cy="592.8" r="2.75" fill="#619CFF" fill-opacity="0.72"/>
<circle cx="309.4" cy="595.5" r="2.75" fill="#619CFF" fill-opacity="0.72"/>
<circle cx="312.5" cy="612.8" r="2.75" fill="#619CFF" fill-opacity="0.72"/>
<circle cx="314.5" cy="613.8" r="2.75" fill="#619CFF" fill-opacity="0.72"/>
<circle cx="309.4" cy="624.6" r="2.75" fill="#619CFF" fill-opacity="0.72"/>
<circle cx="307.4" cy="630.0" r="2.75" fill="#619CFF" fill-opacity="0.72"/>
<circle cx="301.3" cy="634.7" r="2.75" fill="#619CFF" fill-opacity="0.72"/>
<circle cx="300.7" cy="641.2" r="2.75" fill="#619CFF" fill-opacity="0.72"/>
<circle cx="316.5" cy="647.7" r="2.75" fill="#619CFF" fill-opacity="0.72"/>
<circle cx="311.5" cy="662.0" r="2.75" fill="#619CFF" fill-opacity="0.72"/>
<circle cx="295.2" cy="668.0" r="2.75" fill="#619CFF" fill-opacity="0.72"/>
<circle cx="299.9" cy="671.7" r="2.75" fill="#619CFF" fill-opacity="0.72"/>
<circle cx="306.4" cy="668.7" r="2.75" fill="#619CFF" fill-opacity="0.72"/>
<circle cx="317.2" cy="694.5" r="2.75" fill="#619CFF" fill-opacity="0.72"/>
<circle cx="298.9" cy="704.2" r="2.75" fill="#619CFF" fill-opacity="0.72"/>
<line x1="363.3" y1="480.2" x2="363.3" y2="556.3" stroke="#F564E3" stroke-width="2.6" />
<line x1="363.3" y1="624.0" x2="363.3" y2="689.0" stroke="#F564E3" stroke-width="2.6" />
<rect x="342.6" y="557.6" width="41.1" height="65.1" fill="none" stroke="#F564E3" stroke-width="2.6"/>
<line x1="341.3" y1="586.7" x2="385.0" y2="586.7" stroke="#F564E3" stroke-width="5.2" />
<circle cx="368.0" cy="454.8" r="2.75" fill="#F564E3" fill-opacity="0.72"/>
<circle cx="357.4" cy="479.6" r="2.75" fill="#F564E3" fill-opacity="0.72"/>
<circle cx="361.9" cy="493.3" r="2.75" fill="#F564E3" fill-opacity="0.72"/>
<circle cx="354.6" cy="496.5" r="2.75" fill="#F564E3" fill-opacity="0.72"/>
<circle cx="370.0" cy="496.5" r="2.75" fill="#F564E3" fill-opacity="0.72"/>
<circle cx="352.1" cy="507.5" r="2.75" fill="#F564E3" fill-opacity="0.72"/>
<circle cx="366.7" cy="512.4" r="2.75" fill="#F564E3" fill-opacity="0.72"/>
<circle cx="360.9" cy="524.1" r="2.75" fill="#F564E3" fill-opacity="0.72"/>
<circle cx="370.8" cy="546.5" r="2.75" fill="#F564E3" fill-opacity="0.72"/>
<circle cx="357.4" cy="560.1" r="2.75" fill="#F564E3" fill-opacity="0.72"/>
<circle cx="370.0" cy="566.4" r="2.75" fill="#F564E3" fill-opacity="0.72"/>
<circle cx="353.7" cy="571.7" r="2.75" fill="#F564E3" fill-opacity="0.72"/>
<circle cx="357.2" cy="569.7" r="2.75" fill="#F564E3" fill-opacity="0.72"/>
<circle cx="368.8" cy="575.8" r="2.75" fill="#F564E3" fill-opacity="0.72"/>
<circle cx="374.5" cy="575.0" r="2.75" fill="#F564E3" fill-opacity="0.72"/>
<circle cx="364.7" cy="581.3" r="2.75" fill="#F564E3" fill-opacity="0.72"/>
<circle cx="353.1" cy="590.0" r="2.75" fill="#F564E3" fill-opacity="0.72"/>
<circle cx="358.2" cy="591.4" r="2.75" fill="#F564E3" fill-opacity="0.72"/>
<circle cx="366.7" cy="596.5" r="2.75" fill="#F564E3" fill-opacity="0.72"/>
<circle cx="368.6" cy="600.6" r="2.75" fill="#F564E3" fill-opacity="0.72"/>
<circle cx="373.5" cy="606.7" r="2.75" fill="#F564E3" fill-opacity="0.72"/>
<circle cx="353.7" cy="608.3" r="2.75" fill="#F564E3" fill-opacity="0.72"/>
<circle cx="358.2" cy="614.4" r="2.75" fill="#F564E3" fill-opacity="0.72"/>
<circle cx="369.4" cy="621.9" r="2.75" fill="#F564E3" fill-opacity="0.72"/>
<circle cx="363.3" cy="628.4" r="2.75" fill="#F564E3" fill-opacity="0.72"/>
<circle cx="372.4" cy="631.5" r="2.75" fill="#F564E3" fill-opacity="0.72"/>
<circle cx="354.6" cy="639.2" r="2.75" fill="#F564E3" fill-opacity="0.72"/>
<circle cx="362.3" cy="636.7" r="2.75" fill="#F564E3" fill-opacity="0.72"/>
<circle cx="368.0" cy="635.5" r="2.75" fill="#F564E3" fill-opacity="0.72"/>
<circle cx="370.6" cy="641.6" r="2.75" fill="#F564E3" fill-opacity="0.72"/>
<circle cx="362.7" cy="671.1" r="2.75" fill="#F564E3" fill-opacity="0.72"/>
<circle cx="366.7" cy="674.8" r="2.75" fill="#F564E3" fill-opacity="0.72"/>
<circle cx="370.4" cy="689.4" r="2.75" fill="#F564E3" fill-opacity="0.72"/>
<circle cx="249.5" cy="529.8" r="2.75" fill="#00BFC4" fill-opacity="0.72"/>
<line x1="49.2" y1="596.9" x2="395.5" y2="596.9" stroke="#000" stroke-width="2.8" stroke-dasharray="8.4 13.8" stroke-linecap="round" stroke-dashoffset="2.9"/>
<line x1="49.2" y1="729.6" x2="395.5" y2="729.6" stroke="#000" stroke-width="2.8" stroke-dasharray="8.4 13.8" stroke-linecap="round" stroke-dashoffset="2.9"/>
<rect x="47.8" y="443.3" width="347.7" height="298.2" fill="none" stroke="#000" stroke-width="2.9"/>
<path d="M70.4,461.0 Q70.4,455.4 73.4,455.4 L132.6,455.4 Q135.6,455.4 135.6,461.0" fill="none" stroke="#000" stroke-width="2.7"/>
<path d="M186.8,461.0 Q186.8,455.4 189.8,455.4 L248.3,455.4 Q251.3,455.4 251.3,461.0" fill="none" stroke="#000" stroke-width="2.7"/>
<path d="M302.6,461.0 Q302.6,455.4 305.6,455.4 L364.7,455.4 Q367.7,455.4 367.7,461.0" fill="none" stroke="#000" stroke-width="2.7"/>
<text x="104.2" y="454.4" font-size="20" text-anchor="middle" fill="#000" font-weight="normal" >ns.</text>
<text x="224.2" y="454.4" font-size="20" text-anchor="middle" fill="#000" font-weight="normal" >ns.</text>
<text x="338.0" y="454.4" font-size="20" text-anchor="middle" fill="#000" font-weight="normal" >ns.</text>
<text x="67.8" y="436.2" font-size="14.5" text-anchor="start" fill="#000" font-weight="normal"  textLength="70.4" lengthAdjust="spacingAndGlyphs">Initial period</text>
<text x="173.6" y="436.2" font-size="14.5" text-anchor="start" fill="#000" font-weight="normal"  textLength="85.3" lengthAdjust="spacingAndGlyphs">Freezing period</text>
<text x="292.0" y="436.2" font-size="14.5" text-anchor="start" fill="#000" font-weight="normal"  textLength="86.6" lengthAdjust="spacingAndGlyphs">Thawing period</text>
<text x="44.2" y="501.6" font-size="13.3" text-anchor="end" fill="#4D4D4D" font-weight="normal" >5.0</text>
<text x="44.2" y="600.2" font-size="13.3" text-anchor="end" fill="#4D4D4D" font-weight="normal" >2.5</text>
<text x="44.2" y="667.3" font-size="13.3" text-anchor="end" fill="#4D4D4D" font-weight="normal" >0.0</text>
<text x="71.9" y="753.7" font-size="15.5" fill="#4D4D4D" textLength="21.6" lengthAdjust="spacingAndGlyphs">e<tspan font-size="9.5">200</tspan></text>
<text x="127.3" y="753.7" font-size="15.5" fill="#4D4D4D" textLength="33.9" lengthAdjust="spacingAndGlyphs">eB<tspan font-size="9.5">200</tspan></text>
<text x="187.8" y="753.7" font-size="15.5" fill="#4D4D4D" textLength="21.6" lengthAdjust="spacingAndGlyphs">e<tspan font-size="9.5">200</tspan></text>
<text x="243.7" y="753.7" font-size="15.5" fill="#4D4D4D" textLength="33.9" lengthAdjust="spacingAndGlyphs">eB<tspan font-size="9.5">200</tspan></text>
<text x="303.6" y="753.7" font-size="15.5" fill="#4D4D4D" textLength="21.6" lengthAdjust="spacingAndGlyphs">e<tspan font-size="9.5">200</tspan></text>
<text x="359.5" y="753.7" font-size="15.5" fill="#4D4D4D" textLength="33.9" lengthAdjust="spacingAndGlyphs">eB<tspan font-size="9.5">200</tspan></text>
<text x="225.9" y="765.0" font-size="14.5" text-anchor="middle" fill="#000" font-weight="normal"  textLength="34" lengthAdjust="spacingAndGlyphs">Group</text>
<text x="0" y="0" font-size="13" text-anchor="middle" transform="translate(24.6,588.1) rotate(-90)">bNTI</text>
<line x1="0.0" y1="621.9" x2="397.0" y2="621.9" stroke="#E4E4E4" stroke-width="1.6" />
<text x="0" y="0" font-size="30" transform="translate(14.0,31.1) scale(0.9,1)">(a)</text>
<text x="0" y="0" font-size="30" transform="translate(15.5,405.0) scale(0.9,1)">(d)</text>
<clipPath id="clip499"><rect x="494.8" y="73.4" width="359.3" height="220.20000000000002"/></clipPath>
<g clip-path="url(#clip499)">
<line x1="589.1" y1="73.4" x2="589.1" y2="293.6" stroke="#E6E6E6" stroke-width="2.2" />
<line x1="759.8" y1="73.4" x2="759.8" y2="293.6" stroke="#E6E6E6" stroke-width="2.2" />
<line x1="494.8" y1="121.1" x2="854.1" y2="121.1" stroke="#E3E3E3" stroke-width="2.2" />
<line x1="494.8" y1="151.6" x2="854.1" y2="151.6" stroke="#E3E3E3" stroke-width="2.2" />
<line x1="494.8" y1="182.5" x2="854.1" y2="182.5" stroke="#E3E3E3" stroke-width="2.2" />
<line x1="494.8" y1="213.4" x2="854.1" y2="213.4" stroke="#E3E3E3" stroke-width="2.2" />
<line x1="494.8" y1="244.3" x2="854.1" y2="244.3" stroke="#E3E3E3" stroke-width="2.2" />
<line x1="494.8" y1="275.1" x2="854.1" y2="275.1" stroke="#E3E3E3" stroke-width="2.2" />
<linearGradient id="rg1" gradientUnits="userSpaceOnUse" x1="564" y1="0" x2="798" y2="0"><stop offset="0.000" stop-color="#b5e0f2"/><stop offset="0.714" stop-color="#b4e0f2"/><stop offset="0.718" stop-color="#b3dff2"/><stop offset="0.722" stop-color="#b2def1"/><stop offset="0.726" stop-color="#b0def1"/><stop offset="0.731" stop-color="#afddf1"/><stop offset="0.735" stop-color="#aeddf1"/><stop offset="0.739" stop-color="#acdcf0"/><stop offset="0.744" stop-color="#abdbf0"/><stop offset="0.748" stop-color="#aadbf0"/><stop offset="0.752" stop-color="#a9daef"/><stop offset="0.756" stop-color="#a7daef"/><stop offset="0.761" stop-color="#a6d9ef"/><stop offset="0.765" stop-color="#a5d8ef"/><stop offset="0.769" stop-color="#a4d8ee"/><stop offset="0.774" stop-color="#a2d7ee"/><stop offset="0.778" stop-color="#9ed4ed"/><stop offset="0.782" stop-color="#98d0eb"/><stop offset="0.786" stop-color="#93cde9"/><stop offset="0.791" stop-color="#8ec9e7"/><stop offset="0.795" stop-color="#88c6e5"/><stop offset="0.799" stop-color="#83c2e3"/><stop offset="0.803" stop-color="#7ebee2"/><stop offset="0.808" stop-color="#78bae0"/><stop offset="0.812" stop-color="#71b6dd"/><stop offset="0.816" stop-color="#6bb0da"/><stop offset="0.821" stop-color="#65aad6"/><stop offset="0.825" stop-color="#60a5d3"/><stop offset="0.829" stop-color="#5ca1d0"/><stop offset="0.833" stop-color="#589ccd"/><stop offset="0.838" stop-color="#5398ca"/><stop offset="0.842" stop-color="#5196c9"/><stop offset="0.846" stop-color="#4f94c8"/><stop offset="0.850" stop-color="#4d92c6"/><stop offset="0.855" stop-color="#4c90c5"/><stop offset="0.859" stop-color="#4e92c7"/><stop offset="0.863" stop-color="#5195c9"/><stop offset="0.868" stop-color="#5498cb"/><stop offset="0.872" stop-color="#579bcd"/><stop offset="0.876" stop-color="#5ca1d0"/><stop offset="0.880" stop-color="#63a7d4"/><stop offset="0.885" stop-color="#69add8"/><stop offset="0.889" stop-color="#6fb4dc"/><stop offset="0.893" stop-color="#75b8df"/><stop offset="0.897" stop-color="#7bbde1"/><stop offset="0.902" stop-color="#81c1e3"/><stop offset="0.906" stop-color="#88c5e5"/><stop offset="0.910" stop-color="#8ec9e7"/><stop offset="0.915" stop-color="#94cee9"/><stop offset="0.919" stop-color="#9ad1eb"/><stop offset="0.923" stop-color="#9fd5ed"/><stop offset="0.927" stop-color="#a4d8ee"/><stop offset="0.932" stop-color="#a7d9ef"/><stop offset="0.936" stop-color="#aadbf0"/><stop offset="0.940" stop-color="#aeddf1"/><stop offset="0.944" stop-color="#b1def1"/><stop offset="0.949" stop-color="#b2def2"/><stop offset="1.000" stop-color="#b2def2"/></linearGradient>
<polygon points="564,121.1 564,121.0 565,120.9 566,120.8 567,120.7 568,120.5 569,120.2 570,119.9 571,119.4 572,118.9 573,118.3 574,117.5 575,116.6 576,115.6 577,114.6 578,113.4 579,112.3 580,111.2 581,110.2 582,109.4 583,108.7 584,108.3 585,108.1 586,108.2 587,108.5 588,109.1 589,109.9 590,110.8 591,111.9 592,113.0 593,114.1 594,115.2 595,116.2 596,117.1 597,118.0 598,118.7 599,119.2 600,119.7 601,120.1 602,120.4 603,120.6 604,120.7 605,120.9 606,120.9 607,121.0 608,121.0 609,121.1 610,121.1 611,121.1 612,121.1 613,121.1 614,121.1 615,121.1 616,121.1 617,121.1 618,121.1 619,121.1 620,121.1 621,121.1 622,121.1 623,121.1 624,121.1 625,121.1 626,121.1 627,121.1 628,121.1 629,121.1 630,121.1 631,121.1 632,121.1 633,121.1 634,121.1 635,121.1 636,121.1 637,121.1 638,121.1 639,121.1 640,121.1 641,121.1 642,121.1 643,121.1 644,121.1 645,121.1 646,121.1 647,121.1 648,121.1 649,121.1 650,121.1 651,121.1 652,121.1 653,121.1 654,121.1 655,121.1 656,121.1 657,121.0 658,121.0 659,121.0 660,120.9 661,120.9 662,120.8 663,120.6 664,120.5 665,120.2 666,120.0 667,119.6 668,119.3 669,118.8 670,118.3 671,117.8 672,117.2 673,116.6 674,115.9 675,115.3 676,114.8 677,114.3 678,113.9 679,113.6 680,113.4 681,113.4 682,113.5 683,113.8 684,114.1 685,114.6 686,115.1 687,115.7 688,116.3 689,116.9 690,117.5 691,118.1 692,118.6 693,119.1 694,119.5 695,119.8 696,120.1 697,120.4 698,120.6 699,120.7 700,120.8 701,120.9 702,121.0 703,121.0 704,121.0 705,121.1 706,121.1 707,121.1 708,121.1 709,121.1 710,121.1 711,121.1 712,121.1 713,121.1 714,121.1 715,121.1 716,121.1 717,121.1 718,121.1 719,121.1 720,121.1 721,121.1 722,121.1 723,121.1 724,121.1 725,121.0 726,121.0 727,121.0 728,120.9 729,120.8 730,120.8 731,120.6 732,120.5 733,120.3 734,120.0 735,119.7 736,119.3 737,118.8 738,118.2 739,117.5 740,116.6 741,115.6 742,114.4 743,113.0 744,111.4 745,109.7 746,107.7 747,105.6 748,103.3 749,100.9 750,98.3 751,95.6 752,92.9 753,90.2 754,87.6 755,85.1 756,82.7 757,80.6 758,78.8 759,77.3 760,76.1 761,75.4 762,75.1 763,75.2 764,75.8 765,76.8 766,78.1 767,79.8 768,81.8 769,84.1 770,86.6 771,89.2 772,91.8 773,94.6 774,97.2 775,99.8 776,102.4 777,104.7 778,106.9 779,108.9 780,110.8 781,112.4 782,113.9 783,115.1 784,116.2 785,117.1 786,117.9 787,118.6 788,119.1 789,119.5 790,119.9 791,120.2 792,120.4 793,120.6 794,120.7 795,120.8 796,120.9 797,120.9 798,121.0 798,121.1" fill="url(#rg1)"/>
<linearGradient id="rg2" gradientUnits="userSpaceOnUse" x1="567" y1="0" x2="785" y2="0"><stop offset="0.000" stop-color="#b5e0f2"/><stop offset="0.642" stop-color="#b4e0f2"/><stop offset="0.647" stop-color="#b4dff2"/><stop offset="0.656" stop-color="#b3dff2"/><stop offset="0.665" stop-color="#b2dff2"/><stop offset="0.670" stop-color="#b2def1"/><stop offset="0.674" stop-color="#b1def1"/><stop offset="0.688" stop-color="#b0def1"/><stop offset="0.693" stop-color="#b0ddf1"/><stop offset="0.697" stop-color="#afddf1"/><stop offset="0.706" stop-color="#aeddf1"/><stop offset="0.711" stop-color="#addcf0"/><stop offset="0.716" stop-color="#acdcf0"/><stop offset="0.720" stop-color="#acdbf0"/><stop offset="0.725" stop-color="#abdbf0"/><stop offset="0.729" stop-color="#aadbf0"/><stop offset="0.734" stop-color="#a9daf0"/><stop offset="0.739" stop-color="#a8daef"/><stop offset="0.743" stop-color="#a7d9ef"/><stop offset="0.748" stop-color="#a6d9ef"/><stop offset="0.757" stop-color="#a5d8ef"/><stop offset="0.761" stop-color="#a4d8ee"/><stop offset="0.766" stop-color="#a3d7ee"/><stop offset="0.771" stop-color="#a2d7ee"/><stop offset="0.775" stop-color="#a0d5ed"/><stop offset="0.780" stop-color="#9dd3ec"/><stop offset="0.784" stop-color="#9ad1eb"/><stop offset="0.789" stop-color="#97cfea"/><stop offset="0.794" stop-color="#94cde9"/><stop offset="0.798" stop-color="#91cbe8"/><stop offset="0.803" stop-color="#8ec9e7"/><stop offset="0.807" stop-color="#8bc7e6"/><stop offset="0.812" stop-color="#88c5e5"/><stop offset="0.817" stop-color="#85c3e4"/><stop offset="0.821" stop-color="#80c0e3"/><stop offset="0.826" stop-color="#7cbde1"/><stop offset="0.830" stop-color="#77badf"/><stop offset="0.835" stop-color="#72b7de"/><stop offset="0.839" stop-color="#6eb3dc"/><stop offset="0.844" stop-color="#69aed9"/><stop offset="0.849" stop-color="#65a9d6"/><stop offset="0.853" stop-color="#5b9fcf"/><stop offset="0.858" stop-color="#4f94c8"/><stop offset="0.862" stop-color="#4488c0"/><stop offset="0.867" stop-color="#3b7eb7"/><stop offset="0.872" stop-color="#3474ac"/><stop offset="0.876" stop-color="#2a659c"/><stop offset="0.881" stop-color="#20578c"/><stop offset="0.885" stop-color="#1c4d81"/><stop offset="0.890" stop-color="#1a497b"/><stop offset="0.894" stop-color="#184678"/><stop offset="0.899" stop-color="#174374"/><stop offset="0.904" stop-color="#154070"/><stop offset="0.908" stop-color="#164171"/><stop offset="0.913" stop-color="#174374"/><stop offset="0.917" stop-color="#184576"/><stop offset="0.922" stop-color="#1b4c7f"/><stop offset="0.927" stop-color="#1f5489"/><stop offset="0.931" stop-color="#266097"/><stop offset="0.936" stop-color="#3170a8"/><stop offset="0.940" stop-color="#3d80b9"/><stop offset="0.945" stop-color="#4e92c7"/><stop offset="0.950" stop-color="#60a5d3"/><stop offset="0.954" stop-color="#6eb2db"/><stop offset="0.959" stop-color="#7abce0"/><stop offset="0.963" stop-color="#86c4e5"/><stop offset="0.968" stop-color="#93cde9"/><stop offset="0.972" stop-color="#9ad1eb"/><stop offset="0.977" stop-color="#9fd5ed"/><stop offset="0.982" stop-color="#a4d8ee"/><stop offset="0.986" stop-color="#a7d9ef"/><stop offset="0.991" stop-color="#aadbf0"/><stop offset="0.995" stop-color="#aeddf1"/><stop offset="1.000" stop-color="#b1def1"/></linearGradient>
<polygon points="567,151.6 567,151.5 568,151.4 569,151.3 570,151.2 571,151.0 572,150.8 573,150.5 574,150.1 575,149.7 576,149.1 577,148.5 578,147.9 579,147.3 580,146.7 581,146.1 582,145.7 583,145.4 584,145.3 585,145.4 586,145.6 587,145.9 588,146.4 589,147.0 590,147.7 591,148.3 592,148.9 593,149.5 594,149.9 595,150.4 596,150.7 597,151.0 598,151.2 599,151.3 600,151.4 601,151.5 602,151.5 603,151.6 604,151.6 605,151.6 606,151.6 607,151.6 608,151.6 609,151.6 610,151.6 611,151.6 612,151.6 613,151.6 614,151.6 615,151.6 616,151.6 617,151.6 618,151.6 619,151.6 620,151.6 621,151.6 622,151.6 623,151.6 624,151.6 625,151.6 626,151.6 627,151.6 628,151.6 629,151.6 630,151.6 631,151.6 632,151.6 633,151.6 634,151.6 635,151.6 636,151.6 637,151.6 638,151.6 639,151.6 640,151.6 641,151.6 642,151.6 643,151.6 644,151.6 645,151.6 646,151.6 647,151.6 648,151.6 649,151.6 650,151.6 651,151.6 652,151.6 653,151.6 654,151.6 655,151.6 656,151.6 657,151.6 658,151.5 659,151.5 660,151.5 661,151.4 662,151.3 663,151.2 664,151.0 665,150.8 666,150.5 667,150.1 668,149.7 669,149.2 670,148.5 671,147.8 672,147.0 673,146.2 674,145.3 675,144.5 676,143.7 677,143.0 678,142.4 679,142.0 680,141.7 681,141.7 682,141.9 683,142.2 684,142.7 685,143.4 686,144.2 687,145.0 688,145.9 689,146.7 690,147.5 691,148.2 692,148.9 693,149.5 694,150.0 695,150.4 696,150.7 697,150.9 698,151.1 699,151.3 700,151.4 701,151.5 702,151.5 703,151.5 704,151.6 705,151.6 706,151.4 707,151.1 708,150.9 709,150.6 710,150.3 711,150.0 712,149.7 713,149.3 714,148.8 715,148.2 716,147.6 717,146.9 718,146.3 719,145.7 720,145.2 721,144.6 722,144.0 723,143.5 724,142.9 725,142.4 726,141.8 727,141.3 728,140.7 729,140.1 730,139.6 731,139.1 732,138.5 733,138.0 734,137.4 735,136.8 736,136.1 737,135.4 738,134.6 739,133.7 740,132.8 741,131.8 742,130.8 743,129.7 744,128.5 745,127.2 746,125.9 747,124.5 748,123.2 749,121.8 750,120.2 751,118.6 752,117.1 753,115.5 754,114.1 755,112.8 756,111.8 757,110.8 758,110.0 759,109.2 760,108.7 761,108.3 762,107.9 763,107.7 764,107.6 765,108.3 766,109.6 767,111.3 768,113.1 769,115.5 770,118.4 771,121.7 772,126.2 773,130.8 774,134.6 775,138.1 776,141.2 777,144.1 778,146.3 779,147.5 780,148.3 781,148.9 782,149.5 783,150.1 784,150.6 785,151.0 785,151.6" fill="url(#rg2)"/>
<linearGradient id="rg3" gradientUnits="userSpaceOnUse" x1="735" y1="0" x2="788" y2="0"><stop offset="0.000" stop-color="#b5e0f2"/><stop offset="0.075" stop-color="#b4e0f2"/><stop offset="0.094" stop-color="#b4dff2"/><stop offset="0.113" stop-color="#b3dff2"/><stop offset="0.132" stop-color="#b2def1"/><stop offset="0.151" stop-color="#b1def1"/><stop offset="0.170" stop-color="#b0def1"/><stop offset="0.189" stop-color="#afddf1"/><stop offset="0.208" stop-color="#acdcf0"/><stop offset="0.226" stop-color="#a9daf0"/><stop offset="0.245" stop-color="#a6d9ef"/><stop offset="0.264" stop-color="#a3d7ee"/><stop offset="0.283" stop-color="#9bd2eb"/><stop offset="0.302" stop-color="#91cce8"/><stop offset="0.321" stop-color="#88c5e5"/><stop offset="0.340" stop-color="#7ebfe2"/><stop offset="0.358" stop-color="#6fb4dc"/><stop offset="0.377" stop-color="#5fa4d2"/><stop offset="0.396" stop-color="#4f93c7"/><stop offset="0.415" stop-color="#3d80ba"/><stop offset="0.434" stop-color="#316fa7"/><stop offset="0.453" stop-color="#255e95"/><stop offset="0.472" stop-color="#1f5388"/><stop offset="0.491" stop-color="#1b4b7e"/><stop offset="0.509" stop-color="#194779"/><stop offset="0.528" stop-color="#174475"/><stop offset="0.547" stop-color="#164171"/><stop offset="0.566" stop-color="#154070"/><stop offset="0.585" stop-color="#164272"/><stop offset="0.604" stop-color="#174475"/><stop offset="0.623" stop-color="#19487a"/><stop offset="0.642" stop-color="#1d5084"/><stop offset="0.660" stop-color="#225990"/><stop offset="0.679" stop-color="#2f6ca4"/><stop offset="0.698" stop-color="#3d80ba"/><stop offset="0.717" stop-color="#4f94c8"/><stop offset="0.736" stop-color="#5da2d1"/><stop offset="0.755" stop-color="#6bb0da"/><stop offset="0.774" stop-color="#78bbe0"/><stop offset="0.792" stop-color="#84c3e4"/><stop offset="0.811" stop-color="#8fcae8"/><stop offset="0.830" stop-color="#9bd2ec"/><stop offset="0.849" stop-color="#a1d6ee"/><stop offset="0.868" stop-color="#a5d8ef"/><stop offset="0.887" stop-color="#a8daef"/><stop offset="0.906" stop-color="#abdbf0"/><stop offset="0.925" stop-color="#aeddf1"/><stop offset="0.943" stop-color="#b1def1"/><stop offset="0.962" stop-color="#b2def2"/><stop offset="1.000" stop-color="#b2def2"/></linearGradient>
<polygon points="735,182.4 735,182.3 736,182.1 737,181.8 738,181.5 739,181.0 740,180.5 741,179.9 742,179.3 743,178.5 744,177.5 745,176.2 746,174.6 747,172.4 748,168.9 749,164.3 750,160.9 751,157.5 752,153.9 753,151.1 754,148.8 755,146.8 756,145.0 757,143.3 758,142.1 759,141.3 760,140.6 761,140.0 762,139.6 763,139.4 764,139.5 765,139.8 766,140.3 767,141.0 768,141.7 769,142.8 770,144.3 771,146.1 772,147.6 773,149.1 774,151.1 775,154.5 776,160.0 777,165.4 778,169.0 779,171.6 780,173.4 781,174.9 782,176.2 783,177.4 784,178.7 785,179.8 786,180.8 787,181.4 788,181.9 788,182.4" fill="url(#rg3)"/>
<linearGradient id="rg4" gradientUnits="userSpaceOnUse" x1="727" y1="0" x2="788" y2="0"><stop offset="0.000" stop-color="#b5e0f2"/><stop offset="0.197" stop-color="#b4e0f2"/><stop offset="0.213" stop-color="#b4dff2"/><stop offset="0.230" stop-color="#b3dff2"/><stop offset="0.246" stop-color="#b2def1"/><stop offset="0.262" stop-color="#b1def1"/><stop offset="0.279" stop-color="#b0def1"/><stop offset="0.295" stop-color="#afddf1"/><stop offset="0.311" stop-color="#acdcf0"/><stop offset="0.328" stop-color="#a9daf0"/><stop offset="0.344" stop-color="#a6d9ef"/><stop offset="0.361" stop-color="#a3d7ee"/><stop offset="0.377" stop-color="#9bd2eb"/><stop offset="0.393" stop-color="#91cce8"/><stop offset="0.410" stop-color="#88c5e5"/><stop offset="0.426" stop-color="#7ebfe2"/><stop offset="0.443" stop-color="#6fb4dc"/><stop offset="0.459" stop-color="#5fa4d2"/><stop offset="0.475" stop-color="#4f93c7"/><stop offset="0.492" stop-color="#3d80ba"/><stop offset="0.508" stop-color="#316fa7"/><stop offset="0.525" stop-color="#255e95"/><stop offset="0.541" stop-color="#1f5388"/><stop offset="0.557" stop-color="#1b4b7e"/><stop offset="0.574" stop-color="#194779"/><stop offset="0.590" stop-color="#174475"/><stop offset="0.607" stop-color="#164171"/><stop offset="0.623" stop-color="#154070"/><stop offset="0.639" stop-color="#164272"/><stop offset="0.656" stop-color="#174475"/><stop offset="0.672" stop-color="#19487a"/><stop offset="0.689" stop-color="#1d5084"/><stop offset="0.705" stop-color="#225990"/><stop offset="0.721" stop-color="#2f6ca4"/><stop offset="0.738" stop-color="#3d80ba"/><stop offset="0.754" stop-color="#4f94c8"/><stop offset="0.770" stop-color="#5da2d1"/><stop offset="0.787" stop-color="#6bb0da"/><stop offset="0.803" stop-color="#78bbe0"/><stop offset="0.820" stop-color="#84c3e4"/><stop offset="0.836" stop-color="#8fcae8"/><stop offset="0.852" stop-color="#9bd2ec"/><stop offset="0.869" stop-color="#a1d6ee"/><stop offset="0.885" stop-color="#a5d8ef"/><stop offset="0.902" stop-color="#a8daef"/><stop offset="0.918" stop-color="#abdbf0"/><stop offset="0.934" stop-color="#aeddf1"/><stop offset="0.951" stop-color="#b1def1"/><stop offset="0.967" stop-color="#b2def2"/><stop offset="1.000" stop-color="#b2def2"/></linearGradient>
<polygon points="727,213.3 727,213.2 728,213.0 729,212.8 730,212.6 731,212.4 732,212.2 733,211.9 734,211.7 735,211.4 736,211.0 737,210.7 738,210.3 739,209.9 740,209.4 741,208.8 742,208.1 743,207.0 744,205.8 745,204.3 746,202.6 747,200.7 748,198.2 749,195.4 750,191.9 751,188.4 752,184.8 753,182.0 754,179.7 755,177.7 756,175.7 757,173.9 758,172.5 759,171.6 760,170.7 761,170.0 762,169.5 763,169.3 764,169.4 765,169.8 766,170.4 767,171.2 768,172.1 769,173.3 770,175.1 771,176.9 772,178.6 773,180.1 774,182.0 775,185.4 776,190.9 777,196.3 778,199.9 779,202.5 780,204.3 781,205.8 782,207.1 783,208.3 784,209.6 785,210.7 786,211.7 787,212.3 788,212.8 788,213.3" fill="url(#rg4)"/>
<linearGradient id="rg5" gradientUnits="userSpaceOnUse" x1="624" y1="0" x2="789" y2="0"><stop offset="0.000" stop-color="#b5e0f2"/><stop offset="0.697" stop-color="#b4e0f2"/><stop offset="0.703" stop-color="#b4dff2"/><stop offset="0.709" stop-color="#b3dff2"/><stop offset="0.715" stop-color="#b2def1"/><stop offset="0.721" stop-color="#b1def1"/><stop offset="0.727" stop-color="#b0def1"/><stop offset="0.733" stop-color="#afddf1"/><stop offset="0.739" stop-color="#acdcf0"/><stop offset="0.745" stop-color="#a9daf0"/><stop offset="0.752" stop-color="#a6d9ef"/><stop offset="0.758" stop-color="#a3d7ee"/><stop offset="0.764" stop-color="#9bd2eb"/><stop offset="0.770" stop-color="#91cce8"/><stop offset="0.776" stop-color="#88c5e5"/><stop offset="0.782" stop-color="#7ebfe2"/><stop offset="0.788" stop-color="#6fb4dc"/><stop offset="0.794" stop-color="#5fa4d2"/><stop offset="0.800" stop-color="#4f93c7"/><stop offset="0.806" stop-color="#3d80ba"/><stop offset="0.812" stop-color="#316fa7"/><stop offset="0.818" stop-color="#255e95"/><stop offset="0.824" stop-color="#1f5388"/><stop offset="0.830" stop-color="#1b4b7e"/><stop offset="0.836" stop-color="#194779"/><stop offset="0.842" stop-color="#174475"/><stop offset="0.848" stop-color="#164171"/><stop offset="0.855" stop-color="#154070"/><stop offset="0.861" stop-color="#164272"/><stop offset="0.867" stop-color="#174475"/><stop offset="0.873" stop-color="#19487a"/><stop offset="0.879" stop-color="#1d5084"/><stop offset="0.885" stop-color="#225990"/><stop offset="0.891" stop-color="#2f6ca4"/><stop offset="0.897" stop-color="#3d80ba"/><stop offset="0.903" stop-color="#4f94c8"/><stop offset="0.909" stop-color="#5da2d1"/><stop offset="0.915" stop-color="#6bb0da"/><stop offset="0.921" stop-color="#78bbe0"/><stop offset="0.927" stop-color="#84c3e4"/><stop offset="0.933" stop-color="#8fcae8"/><stop offset="0.939" stop-color="#9bd2ec"/><stop offset="0.945" stop-color="#a1d6ee"/><stop offset="0.952" stop-color="#a5d8ef"/><stop offset="0.958" stop-color="#a8daef"/><stop offset="0.964" stop-color="#abdbf0"/><stop offset="0.970" stop-color="#aeddf1"/><stop offset="0.976" stop-color="#b1def1"/><stop offset="0.982" stop-color="#b2def2"/><stop offset="1.000" stop-color="#b2def2"/></linearGradient>
<polygon points="624,244.3 624,244.2 625,244.1 626,244.1 627,244.0 628,244.0 629,243.9 630,243.8 631,243.7 632,243.6 633,243.5 634,243.4 635,243.2 636,243.1 637,243.0 638,243.0 639,242.9 640,242.8 641,242.8 642,242.8 643,242.8 644,242.9 645,242.9 646,243.0 647,243.1 648,243.2 649,243.3 650,243.4 651,243.5 652,243.6 653,243.7 654,243.8 655,243.9 656,244.0 657,244.1 658,244.1 659,244.2 660,244.2 661,244.2 662,244.2 663,244.3 664,244.3 665,244.3 666,244.3 667,244.3 668,244.3 669,244.3 670,244.3 671,244.3 672,244.3 673,244.3 674,244.3 675,244.3 676,244.3 677,244.3 678,244.3 679,244.3 680,244.3 681,244.3 682,244.3 683,244.3 684,244.3 685,244.3 686,244.3 687,244.3 688,244.3 689,244.3 690,244.3 691,244.3 692,244.3 693,244.3 694,244.3 695,244.3 696,244.3 697,244.3 698,244.3 699,244.3 700,244.3 701,244.3 702,244.3 703,244.3 704,244.3 705,244.3 706,244.3 707,244.3 708,244.3 709,244.3 710,244.3 711,244.3 712,244.3 713,244.3 714,244.3 715,244.3 716,244.3 717,244.3 718,244.3 719,244.3 720,244.3 721,244.3 722,244.3 723,244.3 724,244.3 725,244.3 726,244.3 727,244.3 728,244.3 729,244.3 730,244.3 731,244.3 732,244.3 733,244.3 734,244.3 735,244.3 736,244.3 737,244.3 738,243.9 739,243.5 740,243.1 741,242.4 742,241.6 743,240.6 744,239.5 745,238.1 746,236.6 747,234.6 748,232.1 749,229.8 750,227.5 751,224.7 752,220.3 753,216.2 754,212.8 755,209.8 756,207.3 757,205.1 758,203.5 759,202.5 760,201.7 761,201.0 762,200.5 763,200.3 764,200.4 765,200.8 766,201.4 767,202.2 768,203.1 769,204.4 770,206.5 771,208.9 772,211.1 773,213.4 774,215.7 775,218.0 776,220.2 777,222.4 778,224.8 779,227.3 780,230.0 781,232.2 782,234.2 783,236.1 784,237.9 785,239.6 786,241.2 787,242.5 788,243.4 789,244.1 789,244.3" fill="url(#rg5)"/>
<linearGradient id="rg6" gradientUnits="userSpaceOnUse" x1="737" y1="0" x2="789" y2="0"><stop offset="0.000" stop-color="#b5e0f2"/><stop offset="0.038" stop-color="#b4e0f2"/><stop offset="0.058" stop-color="#b4dff2"/><stop offset="0.077" stop-color="#b3dff2"/><stop offset="0.096" stop-color="#b2def1"/><stop offset="0.115" stop-color="#b1def1"/><stop offset="0.135" stop-color="#b0def1"/><stop offset="0.154" stop-color="#afddf1"/><stop offset="0.173" stop-color="#acdcf0"/><stop offset="0.192" stop-color="#a9daf0"/><stop offset="0.212" stop-color="#a6d9ef"/><stop offset="0.231" stop-color="#a3d7ee"/><stop offset="0.250" stop-color="#9bd2eb"/><stop offset="0.269" stop-color="#91cce8"/><stop offset="0.288" stop-color="#88c5e5"/><stop offset="0.308" stop-color="#7ebfe2"/><stop offset="0.327" stop-color="#6fb4dc"/><stop offset="0.346" stop-color="#5fa4d2"/><stop offset="0.365" stop-color="#4f93c7"/><stop offset="0.385" stop-color="#3d80ba"/><stop offset="0.404" stop-color="#316fa7"/><stop offset="0.423" stop-color="#255e95"/><stop offset="0.442" stop-color="#1f5388"/><stop offset="0.462" stop-color="#1b4b7e"/><stop offset="0.481" stop-color="#194779"/><stop offset="0.500" stop-color="#174475"/><stop offset="0.519" stop-color="#164171"/><stop offset="0.538" stop-color="#154070"/><stop offset="0.558" stop-color="#164272"/><stop offset="0.577" stop-color="#174475"/><stop offset="0.596" stop-color="#19487a"/><stop offset="0.615" stop-color="#1d5084"/><stop offset="0.635" stop-color="#225990"/><stop offset="0.654" stop-color="#2f6ca4"/><stop offset="0.673" stop-color="#3d80ba"/><stop offset="0.692" stop-color="#4f94c8"/><stop offset="0.712" stop-color="#5da2d1"/><stop offset="0.731" stop-color="#6bb0da"/><stop offset="0.750" stop-color="#78bbe0"/><stop offset="0.769" stop-color="#84c3e4"/><stop offset="0.788" stop-color="#8fcae8"/><stop offset="0.808" stop-color="#9bd2ec"/><stop offset="0.827" stop-color="#a1d6ee"/><stop offset="0.846" stop-color="#a5d8ef"/><stop offset="0.865" stop-color="#a8daef"/><stop offset="0.885" stop-color="#abdbf0"/><stop offset="0.904" stop-color="#aeddf1"/><stop offset="0.923" stop-color="#b1def1"/><stop offset="0.942" stop-color="#b2def2"/><stop offset="1.000" stop-color="#b2def2"/></linearGradient>
<polygon points="737,275.1 737,275.0 738,274.8 739,274.5 740,274.0 741,273.3 742,272.3 743,271.3 744,270.2 745,268.9 746,267.3 747,265.1 748,261.9 749,258.1 750,254.5 751,251.2 752,248.0 753,245.1 754,242.7 755,240.5 756,238.5 757,236.6 758,234.7 759,233.3 760,232.4 761,231.5 762,230.8 763,230.3 764,230.1 765,230.2 766,230.6 767,231.2 768,232.0 769,232.9 770,234.1 771,235.8 772,237.7 773,239.5 774,241.4 775,243.5 776,245.9 777,248.8 778,252.1 779,255.6 780,259.6 781,263.5 782,266.5 783,268.7 784,270.5 785,271.9 786,272.8 787,273.5 788,274.1 789,274.6 789,275.1" fill="url(#rg6)"/>
<line x1="589.1" y1="73.4" x2="589.1" y2="293.6" stroke="#4D4A48" stroke-width="2.6" stroke-dasharray="10.6 11.7" stroke-dashoffset="13.7"/>
<line x1="759.8" y1="73.4" x2="759.8" y2="293.6" stroke="#4D4A48" stroke-width="2.6" stroke-dasharray="10.6 11.7" stroke-dashoffset="13.7"/>
<line x1="674.2" y1="73.4" x2="674.2" y2="293.6" stroke="#4D4D4D" stroke-width="2.2" />
</g>
<rect x="494.8" y="73.4" width="359.3" height="220.20000000000002" fill="none" stroke="#000" stroke-width="3"/>
<text x="580.2" y="306.5" font-size="15" text-anchor="start" fill="#000" font-weight="normal" >−0.95</text>
<text x="675.5" y="306.5" font-size="15" text-anchor="middle" fill="#000" font-weight="normal" >0</text>
<text x="753.1" y="306.5" font-size="15" text-anchor="start" fill="#000" font-weight="normal" >0.95</text>
<text x="693.2" y="323.0" font-size="15.2" text-anchor="middle" fill="#000" font-weight="normal" >Raup−Crick Index</text>
<linearGradient id="lg7" x1="0" y1="0" x2="1" y2="0"><stop offset="0" stop-color="#c2e6f5"/><stop offset="0.5" stop-color="#589ccd"/><stop offset="1" stop-color="#153f6f"/></linearGradient>
<rect x="807.7" y="88.6" width="42.2" height="8.9" fill="url(#lg7)" />
<line x1="808.7" y1="88.6" x2="808.7" y2="90.1" stroke="#fff" stroke-width="0.8" />
<line x1="808.7" y1="96.0" x2="808.7" y2="97.5" stroke="#fff" stroke-width="0.8" />
<text x="808.7" y="105.3" font-size="8" text-anchor="middle" fill="#000" font-weight="normal" >0</text>
<line x1="818.4" y1="88.6" x2="818.4" y2="90.1" stroke="#fff" stroke-width="0.8" />
<line x1="818.4" y1="96.0" x2="818.4" y2="97.5" stroke="#fff" stroke-width="0.8" />
<text x="818.4" y="105.3" font-size="8" text-anchor="middle" fill="#000" font-weight="normal" >1</text>
<line x1="828.1" y1="88.6" x2="828.1" y2="90.1" stroke="#fff" stroke-width="0.8" />
<line x1="828.1" y1="96.0" x2="828.1" y2="97.5" stroke="#fff" stroke-width="0.8" />
<text x="828.1" y="105.3" font-size="8" text-anchor="middle" fill="#000" font-weight="normal" >2</text>
<line x1="837.8" y1="88.6" x2="837.8" y2="90.1" stroke="#fff" stroke-width="0.8" />
<line x1="837.8" y1="96.0" x2="837.8" y2="97.5" stroke="#fff" stroke-width="0.8" />
<text x="837.8" y="105.3" font-size="8" text-anchor="middle" fill="#000" font-weight="normal" >3</text>
<line x1="847.4" y1="88.6" x2="847.4" y2="90.1" stroke="#fff" stroke-width="0.8" />
<line x1="847.4" y1="96.0" x2="847.4" y2="97.5" stroke="#fff" stroke-width="0.8" />
<text x="847.4" y="105.3" font-size="8" text-anchor="middle" fill="#000" font-weight="normal" >4</text>
<text x="807.7" y="83.2" font-size="8.5" text-anchor="start" fill="#000" font-weight="normal" >density</text>
<text x="428.9" y="130.4" font-size="15" text-anchor="start" fill="#000" font-weight="normal" >Initial</text>
<text x="428.9" y="148.8" font-size="15" text-anchor="start" fill="#000" font-weight="normal" >period</text>
<text x="428.9" y="191.4" font-size="15" text-anchor="start" fill="#000" font-weight="normal" >Freezing</text>
<text x="428.9" y="210.1" font-size="15" text-anchor="start" fill="#000" font-weight="normal" >period</text>
<text x="428.9" y="252.3" font-size="15" text-anchor="start" fill="#000" font-weight="normal" >Thawing</text>
<text x="428.9" y="271.8" font-size="15" text-anchor="start" fill="#000" font-weight="normal" >period</text>
<text x="496.2" y="119.4" font-size="14">eB<tspan font-size="9.1">200</tspan></text>
<text x="501.5" y="150.6" font-size="14">e<tspan font-size="9.1">200</tspan></text>
<text x="496.2" y="182.5" font-size="14">eB<tspan font-size="9.1">200</tspan></text>
<text x="501.5" y="214.4" font-size="14">e<tspan font-size="9.1">200</tspan></text>
<text x="496.2" y="243.8" font-size="14">eB<tspan font-size="9.1">200</tspan></text>
<text x="501.5" y="274.6" font-size="14">e<tspan font-size="9.1">200</tspan></text>
<path d="M491.1,117.0 C486.9,117.0 491.1,132.3 486.9,134.3 C491.1,136.3 486.9,151.7 491.1,151.7" fill="none" stroke="#000" stroke-width="1.4"/>
<path d="M491.1,179.0 C486.9,179.0 491.1,194.7 486.9,196.7 C491.1,198.7 486.9,214.4 491.1,214.4" fill="none" stroke="#000" stroke-width="1.4"/>
<path d="M491.1,241.0 C486.9,241.0 491.1,256.4 486.9,258.4 C491.1,260.4 486.9,275.7 491.1,275.7" fill="none" stroke="#000" stroke-width="1.4"/>
<clipPath id="clip563"><rect x="494.7" y="465.4" width="359.40000000000003" height="218.20000000000005"/></clipPath>
<g clip-path="url(#clip563)">
<line x1="589.1" y1="465.4" x2="589.1" y2="683.6" stroke="#E6E6E6" stroke-width="2.2" />
<line x1="759.8" y1="465.4" x2="759.8" y2="683.6" stroke="#E6E6E6" stroke-width="2.2" />
<line x1="494.7" y1="529.1" x2="854.1" y2="529.1" stroke="#E3E3E3" stroke-width="2.2" />
<line x1="494.7" y1="556.2" x2="854.1" y2="556.2" stroke="#E3E3E3" stroke-width="2.2" />
<line x1="494.7" y1="584.1" x2="854.1" y2="584.1" stroke="#E3E3E3" stroke-width="2.2" />
<line x1="494.7" y1="611.8" x2="854.1" y2="611.8" stroke="#E3E3E3" stroke-width="2.2" />
<line x1="494.7" y1="639.1" x2="854.1" y2="639.1" stroke="#E3E3E3" stroke-width="2.2" />
<line x1="494.7" y1="667.1" x2="854.1" y2="667.1" stroke="#E3E3E3" stroke-width="2.2" />
<linearGradient id="rg8" gradientUnits="userSpaceOnUse" x1="565" y1="0" x2="789" y2="0"><stop offset="0.000" stop-color="#b2def2"/><stop offset="0.763" stop-color="#b2def1"/><stop offset="0.768" stop-color="#b1def1"/><stop offset="0.772" stop-color="#b0def1"/><stop offset="0.777" stop-color="#b0ddf1"/><stop offset="0.781" stop-color="#afddf1"/><stop offset="0.786" stop-color="#aedcf1"/><stop offset="0.790" stop-color="#acdcf0"/><stop offset="0.795" stop-color="#aadbf0"/><stop offset="0.799" stop-color="#a9daf0"/><stop offset="0.804" stop-color="#a7d9ef"/><stop offset="0.808" stop-color="#a6d9ef"/><stop offset="0.812" stop-color="#a4d8ee"/><stop offset="0.817" stop-color="#a2d7ee"/><stop offset="0.821" stop-color="#99d1eb"/><stop offset="0.826" stop-color="#8dc9e7"/><stop offset="0.830" stop-color="#80c0e3"/><stop offset="0.835" stop-color="#74b8de"/><stop offset="0.839" stop-color="#67acd7"/><stop offset="0.844" stop-color="#5ba0cf"/><stop offset="0.848" stop-color="#4f93c7"/><stop offset="0.853" stop-color="#4185be"/><stop offset="0.857" stop-color="#3778b1"/><stop offset="0.862" stop-color="#2f6ba3"/><stop offset="0.866" stop-color="#276198"/><stop offset="0.871" stop-color="#21578d"/><stop offset="0.875" stop-color="#1f558a"/><stop offset="0.879" stop-color="#1f5388"/><stop offset="0.884" stop-color="#1e5287"/><stop offset="0.888" stop-color="#1e5185"/><stop offset="0.893" stop-color="#1e5186"/><stop offset="0.897" stop-color="#1e5387"/><stop offset="0.902" stop-color="#1f5489"/><stop offset="0.906" stop-color="#20558a"/><stop offset="0.911" stop-color="#22598f"/><stop offset="0.915" stop-color="#276097"/><stop offset="0.920" stop-color="#306da5"/><stop offset="0.924" stop-color="#3a7bb4"/><stop offset="0.929" stop-color="#468bc2"/><stop offset="0.933" stop-color="#579bcc"/><stop offset="0.938" stop-color="#67acd7"/><stop offset="0.942" stop-color="#78bae0"/><stop offset="0.946" stop-color="#84c3e4"/><stop offset="0.951" stop-color="#8fcae7"/><stop offset="0.955" stop-color="#99d1eb"/><stop offset="0.960" stop-color="#a3d8ee"/><stop offset="0.964" stop-color="#a7d9ef"/><stop offset="0.969" stop-color="#a9daef"/><stop offset="0.973" stop-color="#abdbf0"/><stop offset="0.978" stop-color="#addcf0"/><stop offset="0.982" stop-color="#afddf1"/><stop offset="0.987" stop-color="#b1def1"/><stop offset="0.991" stop-color="#b2def2"/><stop offset="1.000" stop-color="#b2def2"/></linearGradient>
<polygon points="565,529.1 565,529.0 566,528.9 567,528.9 568,528.8 569,528.6 570,528.4 571,528.2 572,527.9 573,527.6 574,527.2 575,526.8 576,526.3 577,525.7 578,525.2 579,524.6 580,524.1 581,523.6 582,523.2 583,522.9 584,522.7 585,522.6 586,522.7 587,522.9 588,523.2 589,523.6 590,524.1 591,524.6 592,525.2 593,525.7 594,526.3 595,526.8 596,527.2 597,527.6 598,527.9 599,528.2 600,528.4 601,528.6 602,528.8 603,528.9 604,528.9 605,529.0 606,529.0 607,529.1 608,529.1 609,529.1 610,529.1 611,529.1 612,529.1 613,529.1 614,529.1 615,529.1 616,529.1 617,529.1 618,529.1 619,529.0 620,529.0 621,529.0 622,529.0 623,528.9 624,528.8 625,528.8 626,528.7 627,528.6 628,528.5 629,528.4 630,528.2 631,528.1 632,527.9 633,527.8 634,527.6 635,527.5 636,527.4 637,527.3 638,527.2 639,527.1 640,527.1 641,527.1 642,527.1 643,527.2 644,527.3 645,527.4 646,527.5 647,527.7 648,527.8 649,528.0 650,528.1 651,528.3 652,528.4 653,528.5 654,528.6 655,528.7 656,528.8 657,528.9 658,528.9 659,529.0 660,529.0 661,529.0 662,529.0 663,529.1 664,529.1 665,529.1 666,529.1 667,529.1 668,529.1 669,529.1 670,529.1 671,529.1 672,529.1 673,529.1 674,529.1 675,529.1 676,529.0 677,529.0 678,529.0 679,529.0 680,528.9 681,528.9 682,528.9 683,528.8 684,528.7 685,528.6 686,528.5 687,528.4 688,528.3 689,528.2 690,528.0 691,527.9 692,527.7 693,527.5 694,527.3 695,527.2 696,527.0 697,526.8 698,526.6 699,526.5 700,526.4 701,526.3 702,526.2 703,526.1 704,526.1 705,526.1 706,526.1 707,526.2 708,526.3 709,526.4 710,526.5 711,526.7 712,526.9 713,527.0 714,527.2 715,527.4 716,527.6 717,527.8 718,527.9 719,528.1 720,528.2 721,528.4 722,528.5 723,528.5 724,528.6 725,528.6 726,528.6 727,528.6 728,528.6 729,528.6 730,528.5 731,528.4 732,528.3 733,528.2 734,528.1 735,527.9 736,527.7 737,527.4 738,527.1 739,526.7 740,526.3 741,525.7 742,524.9 743,523.8 744,522.5 745,521.1 746,519.6 747,517.8 748,515.8 749,513.2 750,510.2 751,506.9 752,503.3 753,499.4 754,494.9 755,490.4 756,486.1 757,481.9 758,478.0 759,474.5 760,471.3 761,468.7 762,466.9 763,465.5 764,465.2 765,466.1 766,467.6 767,469.7 768,472.8 769,476.2 770,479.5 771,483.2 772,487.0 773,491.3 774,496.4 775,501.3 776,505.5 777,509.5 778,513.2 779,516.2 780,518.6 781,520.7 782,522.4 783,524.0 784,525.3 785,526.3 786,527.2 787,528.1 788,528.6 789,528.9 789,529.1" fill="url(#rg8)"/>
<linearGradient id="rg9" gradientUnits="userSpaceOnUse" x1="571" y1="0" x2="789" y2="0"><stop offset="0.000" stop-color="#b5e0f2"/><stop offset="0.720" stop-color="#b4e0f2"/><stop offset="0.725" stop-color="#b4dff2"/><stop offset="0.734" stop-color="#b3dff2"/><stop offset="0.748" stop-color="#b2dff2"/><stop offset="0.757" stop-color="#b1def1"/><stop offset="0.766" stop-color="#b0ddf1"/><stop offset="0.771" stop-color="#afddf1"/><stop offset="0.775" stop-color="#aeddf1"/><stop offset="0.780" stop-color="#addcf1"/><stop offset="0.784" stop-color="#addcf0"/><stop offset="0.789" stop-color="#acdcf0"/><stop offset="0.794" stop-color="#abdbf0"/><stop offset="0.798" stop-color="#aadbf0"/><stop offset="0.803" stop-color="#a7d9ef"/><stop offset="0.807" stop-color="#a2d7ee"/><stop offset="0.812" stop-color="#9ad2eb"/><stop offset="0.817" stop-color="#93cde9"/><stop offset="0.821" stop-color="#8bc8e6"/><stop offset="0.826" stop-color="#80c0e3"/><stop offset="0.830" stop-color="#74b8de"/><stop offset="0.835" stop-color="#67acd7"/><stop offset="0.839" stop-color="#5ba0cf"/><stop offset="0.844" stop-color="#4b8fc5"/><stop offset="0.849" stop-color="#3b7eb7"/><stop offset="0.853" stop-color="#306ea6"/><stop offset="0.858" stop-color="#265f96"/><stop offset="0.862" stop-color="#1f5489"/><stop offset="0.867" stop-color="#1b4b7e"/><stop offset="0.872" stop-color="#194779"/><stop offset="0.876" stop-color="#184576"/><stop offset="0.881" stop-color="#174273"/><stop offset="0.885" stop-color="#154070"/><stop offset="0.890" stop-color="#164070"/><stop offset="0.894" stop-color="#164272"/><stop offset="0.899" stop-color="#174374"/><stop offset="0.904" stop-color="#184576"/><stop offset="0.908" stop-color="#1b4b7e"/><stop offset="0.913" stop-color="#1f5388"/><stop offset="0.917" stop-color="#265e95"/><stop offset="0.922" stop-color="#316fa7"/><stop offset="0.927" stop-color="#3e81bb"/><stop offset="0.931" stop-color="#5196c9"/><stop offset="0.936" stop-color="#61a6d3"/><stop offset="0.940" stop-color="#6eb3dc"/><stop offset="0.945" stop-color="#7cbde1"/><stop offset="0.950" stop-color="#8ac7e6"/><stop offset="0.954" stop-color="#94cde9"/><stop offset="0.959" stop-color="#9cd3ec"/><stop offset="0.963" stop-color="#a3d7ee"/><stop offset="0.968" stop-color="#a8daef"/><stop offset="0.972" stop-color="#addcf0"/><stop offset="0.977" stop-color="#afddf1"/><stop offset="1.000" stop-color="#afddf1"/></linearGradient>
<polygon points="571,556.2 571,556.1 572,556.1 573,556.0 574,556.0 575,555.9 576,555.8 577,555.7 578,555.6 579,555.5 580,555.4 581,555.3 582,555.2 583,555.1 584,555.0 585,554.9 586,554.8 587,554.8 588,554.7 589,554.7 590,554.7 591,554.7 592,554.8 593,554.9 594,554.9 595,555.0 596,555.1 597,555.3 598,555.4 599,555.5 600,555.6 601,555.7 602,555.7 603,555.8 604,555.8 605,555.9 606,555.9 607,555.9 608,555.9 609,555.8 610,555.7 611,555.7 612,555.6 613,555.4 614,555.3 615,555.2 616,555.0 617,554.9 618,554.7 619,554.6 620,554.5 621,554.4 622,554.3 623,554.2 624,554.2 625,554.2 626,554.2 627,554.3 628,554.4 629,554.5 630,554.6 631,554.8 632,554.9 633,555.1 634,555.2 635,555.4 636,555.5 637,555.6 638,555.7 639,555.8 640,555.9 641,556.0 642,556.0 643,556.1 644,556.1 645,556.1 646,556.1 647,556.2 648,556.2 649,556.2 650,556.2 651,556.2 652,556.2 653,556.2 654,556.2 655,556.2 656,556.2 657,556.2 658,556.2 659,556.2 660,556.2 661,556.2 662,556.2 663,556.2 664,556.2 665,556.2 666,556.2 667,556.2 668,556.2 669,556.2 670,556.2 671,556.2 672,556.2 673,556.2 674,556.2 675,556.2 676,556.2 677,556.2 678,556.2 679,556.2 680,556.2 681,556.2 682,556.2 683,556.2 684,556.2 685,556.2 686,556.2 687,556.2 688,556.2 689,556.2 690,556.2 691,556.2 692,556.2 693,556.2 694,556.2 695,556.2 696,556.2 697,556.2 698,556.2 699,556.2 700,556.2 701,556.2 702,556.2 703,556.2 704,556.2 705,556.2 706,556.2 707,556.2 708,556.2 709,556.2 710,556.2 711,556.2 712,556.2 713,556.2 714,556.2 715,556.2 716,556.2 717,556.2 718,556.2 719,556.2 720,556.2 721,556.2 722,556.2 723,556.0 724,555.8 725,555.5 726,555.3 727,555.1 728,554.8 729,554.6 730,554.3 731,554.0 732,553.6 733,553.1 734,552.6 735,551.9 736,551.2 737,550.3 738,549.5 739,548.5 740,547.4 741,546.2 742,544.8 743,543.4 744,542.0 745,540.4 746,538.6 747,536.8 748,534.7 749,532.4 750,530.2 751,528.4 752,526.9 753,525.6 754,524.4 755,523.4 756,522.5 757,521.5 758,520.4 759,519.1 760,518.0 761,517.0 762,516.2 763,515.5 764,515.2 765,515.4 766,516.0 767,516.9 768,518.2 769,520.4 770,522.6 771,524.3 772,525.5 773,526.7 774,528.1 775,530.0 776,533.4 777,537.3 778,539.8 779,541.8 780,544.1 781,547.0 782,549.6 783,551.2 784,552.4 785,553.4 786,554.3 787,555.1 788,555.7 789,556.0 789,556.2" fill="url(#rg9)"/>
<linearGradient id="rg10" gradientUnits="userSpaceOnUse" x1="566" y1="0" x2="789" y2="0"><stop offset="0.000" stop-color="#b5e0f2"/><stop offset="0.726" stop-color="#b4e0f2"/><stop offset="0.731" stop-color="#b4dff2"/><stop offset="0.740" stop-color="#b3dff2"/><stop offset="0.753" stop-color="#b2dff2"/><stop offset="0.762" stop-color="#b1def1"/><stop offset="0.771" stop-color="#b0ddf1"/><stop offset="0.776" stop-color="#afddf1"/><stop offset="0.780" stop-color="#aeddf1"/><stop offset="0.785" stop-color="#addcf1"/><stop offset="0.789" stop-color="#addcf0"/><stop offset="0.794" stop-color="#acdcf0"/><stop offset="0.798" stop-color="#abdbf0"/><stop offset="0.803" stop-color="#aadbf0"/><stop offset="0.807" stop-color="#a7d9ef"/><stop offset="0.812" stop-color="#a2d7ee"/><stop offset="0.816" stop-color="#9ad2eb"/><stop offset="0.821" stop-color="#93cde9"/><stop offset="0.825" stop-color="#8bc8e6"/><stop offset="0.830" stop-color="#80c0e3"/><stop offset="0.834" stop-color="#74b8de"/><stop offset="0.839" stop-color="#67acd7"/><stop offset="0.843" stop-color="#5ba0cf"/><stop offset="0.848" stop-color="#4b8fc5"/><stop offset="0.852" stop-color="#3b7eb7"/><stop offset="0.857" stop-color="#306ea6"/><stop offset="0.861" stop-color="#265f96"/><stop offset="0.865" stop-color="#1f5489"/><stop offset="0.870" stop-color="#1b4b7e"/><stop offset="0.874" stop-color="#194779"/><stop offset="0.879" stop-color="#184576"/><stop offset="0.883" stop-color="#174273"/><stop offset="0.888" stop-color="#154070"/><stop offset="0.892" stop-color="#164070"/><stop offset="0.897" stop-color="#164272"/><stop offset="0.901" stop-color="#174374"/><stop offset="0.906" stop-color="#184576"/><stop offset="0.910" stop-color="#1b4b7e"/><stop offset="0.915" stop-color="#1f5388"/><stop offset="0.919" stop-color="#265e95"/><stop offset="0.924" stop-color="#316fa7"/><stop offset="0.928" stop-color="#3e81bb"/><stop offset="0.933" stop-color="#5196c9"/><stop offset="0.937" stop-color="#61a6d3"/><stop offset="0.942" stop-color="#6eb3dc"/><stop offset="0.946" stop-color="#7cbde1"/><stop offset="0.951" stop-color="#8ac7e6"/><stop offset="0.955" stop-color="#94cde9"/><stop offset="0.960" stop-color="#9cd3ec"/><stop offset="0.964" stop-color="#a3d7ee"/><stop offset="0.969" stop-color="#a8daef"/><stop offset="0.973" stop-color="#addcf0"/><stop offset="0.978" stop-color="#afddf1"/><stop offset="1.000" stop-color="#afddf1"/></linearGradient>
<polygon points="566,584.1 566,584.0 567,584.0 568,583.9 569,583.8 570,583.7 571,583.6 572,583.4 573,583.2 574,582.9 575,582.6 576,582.3 577,581.9 578,581.4 579,580.9 580,580.4 581,579.8 582,579.3 583,578.7 584,578.2 585,577.8 586,577.4 587,577.1 588,576.9 589,576.8 590,576.8 591,577.0 592,577.2 593,577.5 594,578.0 595,578.4 596,579.0 597,579.5 598,580.1 599,580.6 600,581.1 601,581.6 602,582.0 603,582.4 604,582.8 605,583.0 606,583.3 607,583.5 608,583.6 609,583.7 610,583.8 611,583.9 612,584.0 613,584.0 614,584.0 615,584.1 616,584.1 617,584.1 618,584.1 619,584.1 620,584.1 621,584.1 622,584.1 623,584.1 624,584.1 625,584.1 626,584.1 627,584.1 628,584.1 629,584.1 630,584.1 631,584.1 632,584.1 633,584.1 634,584.1 635,584.1 636,584.1 637,584.1 638,584.1 639,584.1 640,584.1 641,584.1 642,584.1 643,584.1 644,584.1 645,584.1 646,584.1 647,584.1 648,584.1 649,584.1 650,584.1 651,584.1 652,584.1 653,584.1 654,584.1 655,584.1 656,584.1 657,584.1 658,584.1 659,584.1 660,584.1 661,584.1 662,584.1 663,584.1 664,584.1 665,584.1 666,584.1 667,584.1 668,584.1 669,584.1 670,584.1 671,584.1 672,584.1 673,584.1 674,584.1 675,584.1 676,584.1 677,584.1 678,584.1 679,584.1 680,584.1 681,584.1 682,584.1 683,584.1 684,584.1 685,584.1 686,584.1 687,584.1 688,584.1 689,584.1 690,584.1 691,584.1 692,584.1 693,584.1 694,584.1 695,584.1 696,584.1 697,584.1 698,584.1 699,584.1 700,584.1 701,584.1 702,584.1 703,584.1 704,584.1 705,584.1 706,584.1 707,584.1 708,584.1 709,584.1 710,584.1 711,584.1 712,584.1 713,584.1 714,584.1 715,584.1 716,584.0 717,583.8 718,583.5 719,583.4 720,583.2 721,583.1 722,583.0 723,582.9 724,582.8 725,582.7 726,582.7 727,582.6 728,582.6 729,582.5 730,582.5 731,582.4 732,582.3 733,582.3 734,582.2 735,582.1 736,582.1 737,582.0 738,581.9 739,581.8 740,581.7 741,581.4 742,580.9 743,580.1 744,579.1 745,578.0 746,576.4 747,574.3 748,571.7 749,569.0 750,566.0 751,562.4 752,559.1 753,556.3 754,553.8 755,551.6 756,550.0 757,548.5 758,547.2 759,546.3 760,545.7 761,545.2 762,544.8 763,544.6 764,544.5 765,544.6 766,545.0 767,545.4 768,545.9 769,546.7 770,548.1 771,549.9 772,551.6 773,553.1 774,554.4 775,555.6 776,557.0 777,558.7 778,561.0 779,563.9 780,567.0 781,570.0 782,573.2 783,576.2 784,578.5 785,580.3 786,581.8 787,582.8 788,583.6 789,583.9 789,584.1" fill="url(#rg10)"/>
<linearGradient id="rg11" gradientUnits="userSpaceOnUse" x1="573" y1="0" x2="789" y2="0"><stop offset="0.000" stop-color="#b5e0f2"/><stop offset="0.718" stop-color="#b4e0f2"/><stop offset="0.722" stop-color="#b4dff2"/><stop offset="0.731" stop-color="#b3dff2"/><stop offset="0.745" stop-color="#b2dff2"/><stop offset="0.755" stop-color="#b1def1"/><stop offset="0.764" stop-color="#b0ddf1"/><stop offset="0.769" stop-color="#afddf1"/><stop offset="0.773" stop-color="#aeddf1"/><stop offset="0.778" stop-color="#addcf1"/><stop offset="0.782" stop-color="#addcf0"/><stop offset="0.787" stop-color="#acdcf0"/><stop offset="0.792" stop-color="#abdbf0"/><stop offset="0.796" stop-color="#aadbf0"/><stop offset="0.801" stop-color="#a7d9ef"/><stop offset="0.806" stop-color="#a3d7ee"/><stop offset="0.810" stop-color="#9dd4ec"/><stop offset="0.815" stop-color="#96cfea"/><stop offset="0.819" stop-color="#90cbe8"/><stop offset="0.824" stop-color="#87c4e5"/><stop offset="0.829" stop-color="#7cbde1"/><stop offset="0.833" stop-color="#71b6dd"/><stop offset="0.838" stop-color="#67acd7"/><stop offset="0.843" stop-color="#5a9fcf"/><stop offset="0.847" stop-color="#4c90c6"/><stop offset="0.852" stop-color="#3f82bc"/><stop offset="0.856" stop-color="#3778b1"/><stop offset="0.861" stop-color="#316fa7"/><stop offset="0.866" stop-color="#2a669d"/><stop offset="0.870" stop-color="#276198"/><stop offset="0.875" stop-color="#255e95"/><stop offset="0.880" stop-color="#235b92"/><stop offset="0.884" stop-color="#22598f"/><stop offset="0.889" stop-color="#225a90"/><stop offset="0.894" stop-color="#245c92"/><stop offset="0.898" stop-color="#255e94"/><stop offset="0.903" stop-color="#276097"/><stop offset="0.907" stop-color="#2c689f"/><stop offset="0.912" stop-color="#3372aa"/><stop offset="0.917" stop-color="#3a7cb5"/><stop offset="0.921" stop-color="#4488c0"/><stop offset="0.926" stop-color="#5296c9"/><stop offset="0.931" stop-color="#60a4d2"/><stop offset="0.935" stop-color="#6cb1db"/><stop offset="0.940" stop-color="#79bbe0"/><stop offset="0.944" stop-color="#85c3e4"/><stop offset="0.949" stop-color="#92cce8"/><stop offset="0.954" stop-color="#9ad2eb"/><stop offset="0.958" stop-color="#a1d6ee"/><stop offset="0.963" stop-color="#a5d9ef"/><stop offset="0.968" stop-color="#a9daf0"/><stop offset="0.972" stop-color="#aedcf1"/><stop offset="0.977" stop-color="#afddf1"/><stop offset="1.000" stop-color="#afddf1"/></linearGradient>
<polygon points="573,611.8 573,611.7 574,611.6 575,611.6 576,611.5 577,611.3 578,611.1 579,610.9 580,610.6 581,610.3 582,609.9 583,609.5 584,609.1 585,608.7 586,608.3 587,608.1 588,607.9 589,607.8 590,607.8 591,607.9 592,608.1 593,608.4 594,608.8 595,609.1 596,609.5 597,609.8 598,610.1 599,610.4 600,610.5 601,610.6 602,610.7 603,610.6 604,610.5 605,610.3 606,610.1 607,609.9 608,609.6 609,609.3 610,609.0 611,608.7 612,608.4 613,608.2 614,607.9 615,607.8 616,607.6 617,607.6 618,607.6 619,607.6 620,607.7 621,607.9 622,608.1 623,608.4 624,608.6 625,608.9 626,609.2 627,609.5 628,609.7 629,610.0 630,610.2 631,610.4 632,610.5 633,610.7 634,610.8 635,610.8 636,610.9 637,610.9 638,611.0 639,611.0 640,611.0 641,611.0 642,611.0 643,610.9 644,610.9 645,610.9 646,610.9 647,610.8 648,610.8 649,610.8 650,610.7 651,610.7 652,610.7 653,610.7 654,610.6 655,610.6 656,610.6 657,610.6 658,610.5 659,610.5 660,610.5 661,610.5 662,610.4 663,610.4 664,610.4 665,610.4 666,610.4 667,610.4 668,610.3 669,610.3 670,610.3 671,610.3 672,610.3 673,610.3 674,610.3 675,610.3 676,610.3 677,610.3 678,610.3 679,610.3 680,610.3 681,610.3 682,610.3 683,610.3 684,610.3 685,610.3 686,610.3 687,610.3 688,610.3 689,610.3 690,610.3 691,610.2 692,610.2 693,610.1 694,610.0 695,609.9 696,609.7 697,609.5 698,609.3 699,609.1 700,608.9 701,608.6 702,608.3 703,608.0 704,607.7 705,607.4 706,607.1 707,606.8 708,606.6 709,606.4 710,606.2 711,606.1 712,606.1 713,606.1 714,606.2 715,606.3 716,606.5 717,606.8 718,607.1 719,607.4 720,607.7 721,608.1 722,608.5 723,608.8 724,609.2 725,609.5 726,609.8 727,609.6 728,609.2 729,608.7 730,608.2 731,607.7 732,607.4 733,607.0 734,606.7 735,606.4 736,606.0 737,605.6 738,605.2 739,604.7 740,604.3 741,603.7 742,603.1 743,602.4 744,601.6 745,600.5 746,599.1 747,597.3 748,594.9 749,591.3 750,587.7 751,584.3 752,580.9 753,577.9 754,575.3 755,572.8 756,570.5 757,568.8 758,567.4 759,566.2 760,565.4 761,565.0 762,564.6 763,564.3 764,564.2 765,564.4 766,565.1 767,566.0 768,567.4 769,569.3 770,572.1 771,575.2 772,578.3 773,581.0 774,583.7 775,586.5 776,589.7 777,593.3 778,596.5 779,599.0 780,601.3 781,603.4 782,605.2 783,606.7 784,608.0 785,609.1 786,610.1 787,610.8 788,611.3 789,611.6 789,611.8" fill="url(#rg11)"/>
<linearGradient id="rg12" gradientUnits="userSpaceOnUse" x1="561" y1="0" x2="789" y2="0"><stop offset="0.000" stop-color="#b5e0f2"/><stop offset="0.732" stop-color="#b4e0f2"/><stop offset="0.737" stop-color="#b4dff2"/><stop offset="0.746" stop-color="#b3dff2"/><stop offset="0.759" stop-color="#b2dff2"/><stop offset="0.768" stop-color="#b1def1"/><stop offset="0.776" stop-color="#b0ddf1"/><stop offset="0.781" stop-color="#afddf1"/><stop offset="0.785" stop-color="#aeddf1"/><stop offset="0.789" stop-color="#addcf1"/><stop offset="0.794" stop-color="#addcf0"/><stop offset="0.798" stop-color="#acdcf0"/><stop offset="0.803" stop-color="#abdbf0"/><stop offset="0.807" stop-color="#aadbf0"/><stop offset="0.811" stop-color="#a7d9ef"/><stop offset="0.816" stop-color="#a2d7ee"/><stop offset="0.820" stop-color="#9ad2eb"/><stop offset="0.825" stop-color="#93cde9"/><stop offset="0.829" stop-color="#8bc8e6"/><stop offset="0.833" stop-color="#80c0e3"/><stop offset="0.838" stop-color="#74b8de"/><stop offset="0.842" stop-color="#67acd7"/><stop offset="0.846" stop-color="#5ba0cf"/><stop offset="0.851" stop-color="#4b8fc5"/><stop offset="0.855" stop-color="#3b7eb7"/><stop offset="0.860" stop-color="#306ea6"/><stop offset="0.864" stop-color="#265f96"/><stop offset="0.868" stop-color="#1f5489"/><stop offset="0.873" stop-color="#1b4b7e"/><stop offset="0.877" stop-color="#194779"/><stop offset="0.882" stop-color="#184576"/><stop offset="0.886" stop-color="#174273"/><stop offset="0.890" stop-color="#154070"/><stop offset="0.895" stop-color="#164070"/><stop offset="0.899" stop-color="#164272"/><stop offset="0.904" stop-color="#174374"/><stop offset="0.908" stop-color="#184576"/><stop offset="0.912" stop-color="#1b4b7e"/><stop offset="0.917" stop-color="#1f5388"/><stop offset="0.921" stop-color="#265e95"/><stop offset="0.925" stop-color="#316fa7"/><stop offset="0.930" stop-color="#3e81bb"/><stop offset="0.934" stop-color="#5196c9"/><stop offset="0.939" stop-color="#61a6d3"/><stop offset="0.943" stop-color="#6eb3dc"/><stop offset="0.947" stop-color="#7cbde1"/><stop offset="0.952" stop-color="#8ac7e6"/><stop offset="0.956" stop-color="#94cde9"/><stop offset="0.961" stop-color="#9cd3ec"/><stop offset="0.965" stop-color="#a3d7ee"/><stop offset="0.969" stop-color="#a8daef"/><stop offset="0.974" stop-color="#addcf0"/><stop offset="0.978" stop-color="#afddf1"/><stop offset="1.000" stop-color="#afddf1"/></linearGradient>
<polygon points="561,639.1 561,639.0 562,638.9 563,638.8 564,638.7 565,638.6 566,638.5 567,638.3 568,638.0 569,637.7 570,637.4 571,637.0 572,636.6 573,636.2 574,635.7 575,635.2 576,634.7 577,634.2 578,633.7 579,633.3 580,632.9 581,632.7 582,632.5 583,632.4 584,632.4 585,632.5 586,632.8 587,633.1 588,633.5 589,633.9 590,634.4 591,634.9 592,635.4 593,635.9 594,636.4 595,636.8 596,637.2 597,637.6 598,637.9 599,638.1 600,638.3 601,638.5 602,638.7 603,638.8 604,638.9 605,638.9 606,639.0 607,639.0 608,639.0 609,639.1 610,639.1 611,639.1 612,639.1 613,639.1 614,639.1 615,639.1 616,639.1 617,639.1 618,639.1 619,639.1 620,639.1 621,639.1 622,639.1 623,639.0 624,639.0 625,639.0 626,639.0 627,638.9 628,638.8 629,638.8 630,638.7 631,638.6 632,638.5 633,638.4 634,638.2 635,638.1 636,637.9 637,637.8 638,637.6 639,637.5 640,637.4 641,637.3 642,637.2 643,637.1 644,637.1 645,637.1 646,637.1 647,637.2 648,637.3 649,637.4 650,637.5 651,637.7 652,637.8 653,638.0 654,638.1 655,638.3 656,638.4 657,638.5 658,638.6 659,638.7 660,638.8 661,638.9 662,638.9 663,639.0 664,639.0 665,639.0 666,639.0 667,639.1 668,639.1 669,639.1 670,639.1 671,639.1 672,639.1 673,639.1 674,639.1 675,639.1 676,639.1 677,639.1 678,639.1 679,639.1 680,639.1 681,639.1 682,639.1 683,639.1 684,639.1 685,639.0 686,639.0 687,639.0 688,638.9 689,638.9 690,638.8 691,638.8 692,638.7 693,638.5 694,638.4 695,638.2 696,638.1 697,637.9 698,637.6 699,637.4 700,637.2 701,636.9 702,636.7 703,636.5 704,636.3 705,636.2 706,636.1 707,636.1 708,636.2 709,636.3 710,636.4 711,636.6 712,636.8 713,637.1 714,637.3 715,637.6 716,637.8 717,638.0 718,638.2 719,638.4 720,638.5 721,638.7 722,638.8 723,638.8 724,638.9 725,639.0 726,639.0 727,639.0 728,639.0 729,639.1 730,639.1 731,639.1 732,639.1 733,639.1 734,639.1 735,639.1 736,639.1 737,638.6 738,637.9 739,637.3 740,636.6 741,635.8 742,634.9 743,633.7 744,632.3 745,630.6 746,628.8 747,626.8 748,624.8 749,622.5 750,619.9 751,617.2 752,614.8 753,611.8 754,596.5 755,587.0 756,583.4 757,580.9 758,579.2 759,578.2 760,577.5 761,576.9 762,576.5 763,576.2 764,576.1 765,576.2 766,576.5 767,577.0 768,577.6 769,578.6 770,581.4 771,585.3 772,589.8 773,595.5 774,600.4 775,605.0 776,610.1 777,615.1 778,618.6 779,621.6 780,624.1 781,626.7 782,629.3 783,631.7 784,633.8 785,635.3 786,636.7 787,637.8 788,638.6 789,638.9 789,639.1" fill="url(#rg12)"/>
<linearGradient id="rg13" gradientUnits="userSpaceOnUse" x1="558" y1="0" x2="789" y2="0"><stop offset="0.000" stop-color="#b5e0f2"/><stop offset="0.736" stop-color="#b4e0f2"/><stop offset="0.740" stop-color="#b4dff2"/><stop offset="0.749" stop-color="#b3dff2"/><stop offset="0.762" stop-color="#b2dff2"/><stop offset="0.771" stop-color="#b1def1"/><stop offset="0.779" stop-color="#b0ddf1"/><stop offset="0.784" stop-color="#afddf1"/><stop offset="0.788" stop-color="#aeddf1"/><stop offset="0.792" stop-color="#addcf1"/><stop offset="0.797" stop-color="#addcf0"/><stop offset="0.801" stop-color="#acdcf0"/><stop offset="0.805" stop-color="#abdbf0"/><stop offset="0.810" stop-color="#aadbf0"/><stop offset="0.814" stop-color="#a7d9ef"/><stop offset="0.818" stop-color="#a2d7ee"/><stop offset="0.823" stop-color="#9ad2eb"/><stop offset="0.827" stop-color="#93cde9"/><stop offset="0.831" stop-color="#8bc8e6"/><stop offset="0.835" stop-color="#80c0e3"/><stop offset="0.840" stop-color="#74b8de"/><stop offset="0.844" stop-color="#67acd7"/><stop offset="0.848" stop-color="#5ba0cf"/><stop offset="0.853" stop-color="#4b8fc5"/><stop offset="0.857" stop-color="#3b7eb7"/><stop offset="0.861" stop-color="#306ea6"/><stop offset="0.866" stop-color="#265f96"/><stop offset="0.870" stop-color="#1f5489"/><stop offset="0.874" stop-color="#1b4b7e"/><stop offset="0.879" stop-color="#194779"/><stop offset="0.883" stop-color="#184576"/><stop offset="0.887" stop-color="#174273"/><stop offset="0.892" stop-color="#154070"/><stop offset="0.896" stop-color="#164070"/><stop offset="0.900" stop-color="#164272"/><stop offset="0.905" stop-color="#174374"/><stop offset="0.909" stop-color="#184576"/><stop offset="0.913" stop-color="#1b4b7e"/><stop offset="0.918" stop-color="#1f5388"/><stop offset="0.922" stop-color="#265e95"/><stop offset="0.926" stop-color="#316fa7"/><stop offset="0.931" stop-color="#3e81bb"/><stop offset="0.935" stop-color="#5196c9"/><stop offset="0.939" stop-color="#61a6d3"/><stop offset="0.944" stop-color="#6eb3dc"/><stop offset="0.948" stop-color="#7cbde1"/><stop offset="0.952" stop-color="#8ac7e6"/><stop offset="0.957" stop-color="#94cde9"/><stop offset="0.961" stop-color="#9cd3ec"/><stop offset="0.965" stop-color="#a3d7ee"/><stop offset="0.970" stop-color="#a8daef"/><stop offset="0.974" stop-color="#addcf0"/><stop offset="0.978" stop-color="#afddf1"/><stop offset="1.000" stop-color="#afddf1"/></linearGradient>
<polygon points="558,667.1 558,667.0 559,667.0 560,666.9 561,666.8 562,666.8 563,666.7 564,666.6 565,666.5 566,666.4 567,666.2 568,666.1 569,665.9 570,665.8 571,665.6 572,665.5 573,665.4 574,665.3 575,665.2 576,665.1 577,665.1 578,665.1 579,665.1 580,665.2 581,665.3 582,665.3 583,665.4 584,665.5 585,665.6 586,665.7 587,665.8 588,665.8 589,665.8 590,665.7 591,665.6 592,665.5 593,665.3 594,665.0 595,664.7 596,664.4 597,664.1 598,663.7 599,663.4 600,663.0 601,662.7 602,662.5 603,662.3 604,662.2 605,662.1 606,662.1 607,662.2 608,662.4 609,662.6 610,662.9 611,663.2 612,663.6 613,664.0 614,664.3 615,664.7 616,665.1 617,665.4 618,665.7 619,665.9 620,666.2 621,666.3 622,666.5 623,666.6 624,666.7 625,666.7 626,666.8 627,666.8 628,666.8 629,666.7 630,666.7 631,666.6 632,666.5 633,666.3 634,666.2 635,666.1 636,665.9 637,665.8 638,665.6 639,665.5 640,665.4 641,665.3 642,665.2 643,665.1 644,665.1 645,665.1 646,665.1 647,665.2 648,665.3 649,665.4 650,665.5 651,665.7 652,665.8 653,666.0 654,666.1 655,666.3 656,666.4 657,666.5 658,666.6 659,666.7 660,666.8 661,666.9 662,666.9 663,667.0 664,667.0 665,667.0 666,667.0 667,667.1 668,667.1 669,667.1 670,667.1 671,667.1 672,667.1 673,667.1 674,667.1 675,667.1 676,667.1 677,667.1 678,667.1 679,667.1 680,667.1 681,667.1 682,667.1 683,667.1 684,667.1 685,667.1 686,667.1 687,667.1 688,667.1 689,667.1 690,667.1 691,667.1 692,667.1 693,667.1 694,667.1 695,667.1 696,667.1 697,667.1 698,667.1 699,667.1 700,667.1 701,667.1 702,667.1 703,667.1 704,667.1 705,667.1 706,667.1 707,667.1 708,667.1 709,667.1 710,667.1 711,667.1 712,667.1 713,667.1 714,667.1 715,667.1 716,667.1 717,667.1 718,667.1 719,667.1 720,667.1 721,667.1 722,667.1 723,667.1 724,667.1 725,667.1 726,667.1 727,666.6 728,665.9 729,665.2 730,664.5 731,663.8 732,663.0 733,662.1 734,661.2 735,660.3 736,659.4 737,658.4 738,657.4 739,656.3 740,655.2 741,654.0 742,652.8 743,651.5 744,650.1 745,648.6 746,647.1 747,645.5 748,643.9 749,642.4 750,640.5 751,637.8 752,633.1 753,628.1 754,622.7 755,618.0 756,615.3 757,613.1 758,611.4 759,610.3 760,609.7 761,609.1 762,608.7 763,608.4 764,608.2 765,608.1 766,608.3 767,608.6 768,609.2 769,609.9 770,611.2 771,614.2 772,618.0 773,622.1 774,627.2 775,632.0 776,636.3 777,640.4 778,644.1 779,647.3 780,650.2 781,652.9 782,655.4 783,657.9 784,660.2 785,662.2 786,663.7 787,665.1 788,666.2 789,666.8 789,667.1" fill="url(#rg13)"/>
<line x1="589.1" y1="465.4" x2="589.1" y2="683.6" stroke="#4D4A48" stroke-width="2.6" stroke-dasharray="10.6 11.7" stroke-dashoffset="14.2"/>
<line x1="759.8" y1="465.4" x2="759.8" y2="683.6" stroke="#4D4A48" stroke-width="2.6" stroke-dasharray="10.6 11.7" stroke-dashoffset="14.2"/>
<line x1="674.2" y1="465.4" x2="674.2" y2="683.6" stroke="#4D4D4D" stroke-width="2.2" />
</g>
<rect x="494.7" y="465.4" width="359.40000000000003" height="218.20000000000005" fill="none" stroke="#000" stroke-width="3"/>
<text x="580.2" y="697.2" font-size="16" text-anchor="start" fill="#000" font-weight="normal" >−0.95</text>
<text x="675.5" y="697.2" font-size="16" text-anchor="middle" fill="#000" font-weight="normal" >0</text>
<text x="753.0" y="697.2" font-size="16" text-anchor="start" fill="#000" font-weight="normal" >0.95</text>
<text x="679.2" y="716.6" font-size="16.6" text-anchor="middle" fill="#000" font-weight="normal" >Raup−Crick Index</text>
<linearGradient id="lg14" x1="0" y1="0" x2="1" y2="0"><stop offset="0" stop-color="#c2e6f5"/><stop offset="0.5" stop-color="#589ccd"/><stop offset="1" stop-color="#153f6f"/></linearGradient>
<rect x="815.8" y="478.9" width="33.2" height="6.7" fill="url(#lg14)" />
<line x1="816.8" y1="478.9" x2="816.8" y2="480.4" stroke="#fff" stroke-width="0.8" />
<line x1="816.8" y1="484.1" x2="816.8" y2="485.6" stroke="#fff" stroke-width="0.8" />
<text x="816.8" y="491.5" font-size="8" text-anchor="middle" fill="#000" font-weight="normal" >0</text>
<line x1="826.3" y1="478.9" x2="826.3" y2="480.4" stroke="#fff" stroke-width="0.8" />
<line x1="826.3" y1="484.1" x2="826.3" y2="485.6" stroke="#fff" stroke-width="0.8" />
<text x="826.3" y="491.5" font-size="8" text-anchor="middle" fill="#000" font-weight="normal" >1</text>
<line x1="835.7" y1="478.9" x2="835.7" y2="480.4" stroke="#fff" stroke-width="0.8" />
<line x1="835.7" y1="484.1" x2="835.7" y2="485.6" stroke="#fff" stroke-width="0.8" />
<text x="835.7" y="491.5" font-size="8" text-anchor="middle" fill="#000" font-weight="normal" >2</text>
<line x1="845.2" y1="478.9" x2="845.2" y2="480.4" stroke="#fff" stroke-width="0.8" />
<line x1="845.2" y1="484.1" x2="845.2" y2="485.6" stroke="#fff" stroke-width="0.8" />
<text x="845.2" y="491.5" font-size="8" text-anchor="middle" fill="#000" font-weight="normal" >3</text>
<text x="815.8" y="474.6" font-size="8.5" text-anchor="start" fill="#000" font-weight="normal" >density</text>
<text x="421.8" y="534.9" font-size="16.5" text-anchor="start" fill="#000" font-weight="normal" >Initial</text>
<text x="421.8" y="555.4" font-size="16.5" text-anchor="start" fill="#000" font-weight="normal" >period</text>
<text x="421.8" y="594.4" font-size="16.5" text-anchor="start" fill="#000" font-weight="normal" >Freezing</text>
<text x="421.8" y="613.9" font-size="16.5" text-anchor="start" fill="#000" font-weight="normal" >period</text>
<text x="421.8" y="651.1" font-size="16.5" text-anchor="start" fill="#000" font-weight="normal" >Thawing</text>
<text x="421.8" y="672.3" font-size="16.5" text-anchor="start" fill="#000" font-weight="normal" >period</text>
<text x="495.8" y="527.6" font-size="15">eB<tspan font-size="9.8">200</tspan></text>
<text x="501.7" y="558.5" font-size="15">e<tspan font-size="9.8">200</tspan></text>
<text x="495.8" y="583.5" font-size="15">eB<tspan font-size="9.8">200</tspan></text>
<text x="501.7" y="614.0" font-size="15">e<tspan font-size="9.8">200</tspan></text>
<text x="495.8" y="638.0" font-size="15">eB<tspan font-size="9.8">200</tspan></text>
<text x="501.7" y="669.0" font-size="15">e<tspan font-size="9.8">200</tspan></text>
<path d="M491.0,519.0 C484.5,519.0 491.0,535.9 484.5,537.9 C491.0,539.9 484.5,556.8 491.0,556.8" fill="none" stroke="#000" stroke-width="1.4"/>
<path d="M491.0,578.2 C484.5,578.2 491.0,594.8 484.5,596.8 C491.0,598.8 484.5,615.4 491.0,615.4" fill="none" stroke="#000" stroke-width="1.4"/>
<path d="M491.0,636.1 C484.5,636.1 491.0,652.4 484.5,654.4 C491.0,656.4 484.5,672.7 491.0,672.7" fill="none" stroke="#000" stroke-width="1.4"/>
<text x="0" y="0" font-size="30" transform="translate(435.0,30.6) scale(0.9,1)">(b)</text>
<text x="0" y="0" font-size="30" transform="translate(438.5,405.2) scale(0.9,1)">(e)</text>
<rect x="920.3" y="0.0" width="322.9" height="326.9" fill="#EBEBEB" />
<line x1="920.3" y1="275.1" x2="1243.2" y2="275.1" stroke="#fff" stroke-width="0.9" />
<line x1="920.3" y1="200.8" x2="1243.2" y2="200.8" stroke="#fff" stroke-width="0.9" />
<line x1="920.3" y1="126.6" x2="1243.2" y2="126.6" stroke="#fff" stroke-width="0.9" />
<line x1="920.3" y1="52.3" x2="1243.2" y2="52.3" stroke="#fff" stroke-width="0.9" />
<line x1="920.3" y1="312.2" x2="1243.2" y2="312.2" stroke="#fff" stroke-width="2" />
<line x1="920.3" y1="237.9" x2="1243.2" y2="237.9" stroke="#fff" stroke-width="2" />
<line x1="920.3" y1="163.7" x2="1243.2" y2="163.7" stroke="#fff" stroke-width="2" />
<line x1="920.3" y1="89.4" x2="1243.2" y2="89.4" stroke="#fff" stroke-width="2" />
<line x1="920.3" y1="15.2" x2="1243.2" y2="15.2" stroke="#fff" stroke-width="2" />
<line x1="951.9" y1="0.0" x2="951.9" y2="326.9" stroke="#fff" stroke-width="2" />
<line x1="1003.6" y1="0.0" x2="1003.6" y2="326.9" stroke="#fff" stroke-width="2" />
<line x1="1055.6" y1="0.0" x2="1055.6" y2="326.9" stroke="#fff" stroke-width="2" />
<line x1="1107.6" y1="0.0" x2="1107.6" y2="326.9" stroke="#fff" stroke-width="2" />
<line x1="1159.8" y1="0.0" x2="1159.8" y2="326.9" stroke="#fff" stroke-width="2" />
<line x1="1211.8" y1="0.0" x2="1211.8" y2="326.9" stroke="#fff" stroke-width="2" />
<rect x="928.6" y="106.2" width="47.2" height="205.2" fill="#C77CFF" />
<rect x="928.6" y="81.0" width="47.2" height="25.2" fill="#00BFC4" />
<rect x="928.6" y="64.8" width="47.2" height="16.2" fill="#7CAE00" />
<rect x="928.6" y="14.9" width="47.2" height="49.9" fill="#F8766D" />
<rect x="980.2" y="213.1" width="47.1" height="98.3" fill="#C77CFF" />
<rect x="980.2" y="172.2" width="47.1" height="40.9" fill="#00BFC4" />
<rect x="980.2" y="147.0" width="47.1" height="25.2" fill="#7CAE00" />
<rect x="980.2" y="14.9" width="47.1" height="132.1" fill="#F8766D" />
<rect x="1032.6" y="280.4" width="46.9" height="31.0" fill="#C77CFF" />
<rect x="1032.6" y="14.9" width="46.9" height="265.5" fill="#F8766D" />
<rect x="1084.4" y="287.6" width="47.4" height="24.7" fill="#C77CFF" />
<rect x="1084.4" y="15.6" width="47.4" height="272.0" fill="#F8766D" />
<rect x="1136.7" y="14.9" width="46.7" height="296.5" fill="#F8766D" />
<rect x="1188.3" y="262.1" width="47.4" height="49.3" fill="#7CAE00" />
<rect x="1188.3" y="14.9" width="47.4" height="247.2" fill="#F8766D" />
<rect x="950.9" y="330.0" width="2.0" height="2.2" fill="#333" />
<rect x="1002.6" y="330.0" width="2.0" height="2.2" fill="#333" />
<rect x="1054.6" y="330.0" width="2.0" height="2.2" fill="#333" />
<rect x="1106.6" y="330.0" width="2.0" height="2.2" fill="#333" />
<rect x="1158.8" y="330.0" width="2.0" height="2.2" fill="#333" />
<rect x="1210.8" y="330.0" width="2.0" height="2.2" fill="#333" />
<text x="916.0" y="21.2" font-size="15.5" text-anchor="end" fill="#4D4D4D" font-weight="normal"  textLength="21.5" lengthAdjust="spacingAndGlyphs">100</text>
<rect x="915.5" y="17.0" width="2.2" height="2.0" fill="#222" />
<text x="916.0" y="95.6" font-size="15.5" text-anchor="end" fill="#4D4D4D" font-weight="normal"  textLength="14.2" lengthAdjust="spacingAndGlyphs">75</text>
<rect x="915.5" y="91.4" width="2.2" height="2.0" fill="#222" />
<text x="916.0" y="169.9" font-size="15.5" text-anchor="end" fill="#4D4D4D" font-weight="normal"  textLength="14.2" lengthAdjust="spacingAndGlyphs">50</text>
<rect x="915.5" y="165.7" width="2.2" height="2.0" fill="#222" />
<text x="916.0" y="244.1" font-size="15.5" text-anchor="end" fill="#4D4D4D" font-weight="normal"  textLength="14.2" lengthAdjust="spacingAndGlyphs">25</text>
<rect x="915.5" y="239.9" width="2.2" height="2.0" fill="#222" />
<text x="916.0" y="318.4" font-size="15.5" text-anchor="end" fill="#4D4D4D" font-weight="normal"  textLength="7" lengthAdjust="spacingAndGlyphs">0</text>
<rect x="915.5" y="314.2" width="2.2" height="2.0" fill="#222" />
<text x="0" y="0" font-size="16" text-anchor="middle" textLength="160" lengthAdjust="spacingAndGlyphs" transform="translate(893.0,161.8) rotate(-90)">Ecological Processes (%)</text>
<rect x="933" y="333.4" width="87.0" height="29.4" rx="13" ry="13" fill="#FEFBA5"/>
<text x="935.6" y="341.7" font-size="15" fill="#4D4D4D">e<tspan font-size="9">200</tspan></text>
<text x="1018.8" y="344.6" font-size="15" fill="#4D4D4D" text-anchor="end">eB<tspan font-size="9">200</tspan></text>
<text x="970.7" y="359.4" font-size="16" text-anchor="middle" fill="#000" font-weight="normal" >Initial</text>
<rect x="1042.1" y="333.4" width="87.9" height="29.4" rx="13" ry="13" fill="#DCE7F4"/>
<text x="1044.5" y="341.7" font-size="15" fill="#4D4D4D">e<tspan font-size="9">200</tspan></text>
<text x="1128.8" y="344.6" font-size="15" fill="#4D4D4D" text-anchor="end">eB<tspan font-size="9">200</tspan></text>
<text x="1082.4" y="359.4" font-size="16" text-anchor="middle" fill="#000" font-weight="normal" >Freezing</text>
<rect x="1152" y="334.2" width="86.3" height="27.3" rx="13" ry="13" fill="#F8C18E"/>
<text x="1154.5" y="341.7" font-size="15" fill="#4D4D4D">e<tspan font-size="9">200</tspan></text>
<text x="1237.5" y="344.6" font-size="15" fill="#4D4D4D" text-anchor="end">eB<tspan font-size="9">200</tspan></text>
<text x="1194.2" y="359.4" font-size="16" text-anchor="middle" fill="#000" font-weight="normal" >Thawing</text>
<text x="1085.5" y="376.8" font-size="15.5" text-anchor="middle" fill="#000" font-weight="normal" >Group</text>
<rect x="925.3" y="418.4" width="318.6" height="321.6" fill="#EBEBEB" />
<line x1="925.3" y1="688.6" x2="1243.9" y2="688.6" stroke="#fff" stroke-width="0.9" />
<line x1="925.3" y1="615.5" x2="1243.9" y2="615.5" stroke="#fff" stroke-width="0.9" />
<line x1="925.3" y1="542.4" x2="1243.9" y2="542.4" stroke="#fff" stroke-width="0.9" />
<line x1="925.3" y1="469.3" x2="1243.9" y2="469.3" stroke="#fff" stroke-width="0.9" />
<line x1="925.3" y1="725.2" x2="1243.9" y2="725.2" stroke="#fff" stroke-width="2" />
<line x1="925.3" y1="652.1" x2="1243.9" y2="652.1" stroke="#fff" stroke-width="2" />
<line x1="925.3" y1="579.0" x2="1243.9" y2="579.0" stroke="#fff" stroke-width="2" />
<line x1="925.3" y1="505.8" x2="1243.9" y2="505.8" stroke="#fff" stroke-width="2" />
<line x1="925.3" y1="432.7" x2="1243.9" y2="432.7" stroke="#fff" stroke-width="2" />
<line x1="956.3" y1="418.4" x2="956.3" y2="740.0" stroke="#fff" stroke-width="2" />
<line x1="1008.0" y1="418.4" x2="1008.0" y2="740.0" stroke="#fff" stroke-width="2" />
<line x1="1059.6" y1="418.4" x2="1059.6" y2="740.0" stroke="#fff" stroke-width="2" />
<line x1="1111.0" y1="418.4" x2="1111.0" y2="740.0" stroke="#fff" stroke-width="2" />
<line x1="1162.2" y1="418.4" x2="1162.2" y2="740.0" stroke="#fff" stroke-width="2" />
<line x1="1213.5" y1="418.4" x2="1213.5" y2="740.0" stroke="#fff" stroke-width="2" />
<rect x="931.8" y="676.2" width="46.7" height="49.0" fill="#C77CFF" />
<rect x="931.8" y="570.3" width="46.7" height="105.9" fill="#7CAE00" />
<rect x="931.8" y="432.7" width="46.7" height="137.6" fill="#F8766D" />
<rect x="983.1" y="692.9" width="46.7" height="32.3" fill="#C77CFF" />
<rect x="983.1" y="668.0" width="46.7" height="24.9" fill="#00BFC4" />
<rect x="983.1" y="513.8" width="46.7" height="154.2" fill="#7CAE00" />
<rect x="983.1" y="432.7" width="46.7" height="81.1" fill="#F8766D" />
<rect x="1037.0" y="701.0" width="46.1" height="24.2" fill="#C77CFF" />
<rect x="1037.0" y="676.5" width="46.1" height="24.5" fill="#00BFC4" />
<rect x="1037.0" y="538.3" width="46.1" height="138.2" fill="#7CAE00" />
<rect x="1037.0" y="432.7" width="46.1" height="105.6" fill="#F8766D" />
<rect x="1088.0" y="620.0" width="47.0" height="106.2" fill="#C77CFF" />
<rect x="1088.0" y="611.8" width="47.0" height="8.2" fill="#00BFC4" />
<rect x="1088.0" y="497.5" width="47.0" height="114.3" fill="#7CAE00" />
<rect x="1088.0" y="432.7" width="47.0" height="64.8" fill="#F8766D" />
<rect x="1138.3" y="669.0" width="46.1" height="57.2" fill="#C77CFF" />
<rect x="1138.3" y="644.5" width="46.1" height="24.5" fill="#00BFC4" />
<rect x="1138.3" y="506.3" width="46.1" height="138.2" fill="#7CAE00" />
<rect x="1138.3" y="433.7" width="46.1" height="72.6" fill="#F8766D" />
<rect x="1190.0" y="677.2" width="46.4" height="49.0" fill="#C77CFF" />
<rect x="1190.0" y="498.4" width="46.4" height="178.8" fill="#7CAE00" />
<rect x="1190.0" y="433.7" width="46.4" height="64.7" fill="#F8766D" />
<rect x="955.3" y="741.0" width="2.0" height="2.2" fill="#333" />
<rect x="1007.0" y="741.0" width="2.0" height="2.2" fill="#333" />
<rect x="1058.6" y="741.0" width="2.0" height="2.2" fill="#333" />
<rect x="1110.0" y="741.0" width="2.0" height="2.2" fill="#333" />
<rect x="1161.2" y="741.0" width="2.0" height="2.2" fill="#333" />
<rect x="1212.5" y="741.0" width="2.0" height="2.2" fill="#333" />
<text x="922.0" y="438.2" font-size="15.5" text-anchor="end" fill="#4D4D4D" font-weight="normal"  textLength="20.3" lengthAdjust="spacingAndGlyphs">100</text>
<rect x="921.5" y="434.0" width="2.2" height="2.0" fill="#222" />
<text x="922.0" y="511.3" font-size="15.5" text-anchor="end" fill="#4D4D4D" font-weight="normal"  textLength="14.7" lengthAdjust="spacingAndGlyphs">75</text>
<rect x="921.5" y="507.1" width="2.2" height="2.0" fill="#222" />
<text x="922.0" y="584.5" font-size="15.5" text-anchor="end" fill="#4D4D4D" font-weight="normal"  textLength="14.7" lengthAdjust="spacingAndGlyphs">50</text>
<rect x="921.5" y="580.2" width="2.2" height="2.0" fill="#222" />
<text x="922.0" y="657.6" font-size="15.5" text-anchor="end" fill="#4D4D4D" font-weight="normal"  textLength="14.7" lengthAdjust="spacingAndGlyphs">25</text>
<rect x="921.5" y="653.4" width="2.2" height="2.0" fill="#222" />
<text x="922.0" y="730.7" font-size="15.5" text-anchor="end" fill="#4D4D4D" font-weight="normal"  textLength="6.6" lengthAdjust="spacingAndGlyphs">0</text>
<rect x="921.5" y="726.5" width="2.2" height="2.0" fill="#222" />
<text x="0" y="0" font-size="15" text-anchor="middle" textLength="152" lengthAdjust="spacingAndGlyphs" transform="translate(900.0,607.8) rotate(-90)">Ecological Processes (%)</text>
<rect x="947.5" y="743.2" width="82.3" height="28.1" rx="13" ry="13" fill="#FEFBA5"/>
<text x="949.8" y="751.7" font-size="15" fill="#4D4D4D">e<tspan font-size="9">200</tspan></text>
<text x="1028.2" y="754.6" font-size="15" fill="#4D4D4D" text-anchor="end">eB<tspan font-size="9">200</tspan></text>
<text x="983.1" y="768.7" font-size="16" text-anchor="middle" fill="#000" font-weight="normal" >Initial</text>
<rect x="1051" y="743.2" width="83.4" height="28.1" rx="13" ry="13" fill="#DCE7F4"/>
<text x="1053.3" y="751.7" font-size="15" fill="#4D4D4D">e<tspan font-size="9">200</tspan></text>
<text x="1133.5" y="754.6" font-size="15" fill="#4D4D4D" text-anchor="end">eB<tspan font-size="9">200</tspan></text>
<text x="1089.3" y="768.7" font-size="16" text-anchor="middle" fill="#000" font-weight="normal" >Freezing</text>
<rect x="1155.7" y="743.2" width="81.7" height="28.1" rx="13" ry="13" fill="#F8C18E"/>
<text x="1158.0" y="751.7" font-size="15" fill="#4D4D4D">e<tspan font-size="9">200</tspan></text>
<text x="1236.5" y="754.6" font-size="15" fill="#4D4D4D" text-anchor="end">eB<tspan font-size="9">200</tspan></text>
<text x="1195.5" y="768.7" font-size="16" text-anchor="middle" fill="#000" font-weight="normal" >Thawing</text>
<text x="1092.6" y="785.0" font-size="15.5" text-anchor="middle" fill="#000" font-weight="normal" >Group</text>
<text x="944.7" y="386.1" font-size="13.5" text-anchor="start" fill="#000" font-weight="normal"  textLength="98.7" lengthAdjust="spacingAndGlyphs">EcologicalProcess</text>
<rect x="943.4" y="390.0" width="13.5" height="12.6" fill="#F8766D" />
<text x="961.1" y="401.0" font-size="14" text-anchor="start" fill="#000" font-weight="normal"  textLength="107" lengthAdjust="spacingAndGlyphs">Dispersal limitation</text>
<rect x="1074.6" y="390.0" width="13.5" height="12.6" fill="#7CAE00" />
<text x="1092.0" y="401.0" font-size="14" text-anchor="start" fill="#000" font-weight="normal"  textLength="133.3" lengthAdjust="spacingAndGlyphs">Heterogeneous selection</text>
<rect x="943.4" y="406.2" width="13.5" height="12.6" fill="#00BFC4" />
<text x="961.1" y="416.5" font-size="14" text-anchor="start" fill="#000" font-weight="normal"  textLength="131.7" lengthAdjust="spacingAndGlyphs">Homogenizing dispersal</text>
<rect x="1099.3" y="406.2" width="13.5" height="12.6" fill="#C77CFF" />
<text x="1116.2" y="416.5" font-size="14" text-anchor="start" fill="#000" font-weight="normal"  textLength="74.1" lengthAdjust="spacingAndGlyphs">Undominated</text>
<text x="0" y="0" font-size="30" transform="translate(860.0,30.7) scale(0.9,1)">(c)</text>
<text x="0" y="0" font-size="30" transform="translate(862.2,404.4) scale(0.9,1)">(f)</text>
<path d="M376,1010 L586,1010 L586,1157 L392,1157 L376,1145 Z" fill="#FAFAFA"/>
<path d="M716,1020 L914,1020 L914,1140 L893,1176 L716,1176 Z" fill="#FAFAFA"/>
<linearGradient id="mb1" x1="0" y1="0" x2="0" y2="1"><stop offset="0" stop-color="#B5E2BF"/><stop offset="1" stop-color="#E6F5E9"/></linearGradient>
<linearGradient id="mbn1" x1="0" y1="0" x2="0" y2="1"><stop offset="0" stop-color="#E6F5E9"/><stop offset="1" stop-color="#B5E2BF"/></linearGradient>
<rect x="415.6" y="1061.2" width="18.8" height="43.0" fill="url(#mb1)" />
<text x="425.0" y="1059.2" font-size="4.5" text-anchor="middle" fill="#555" font-weight="normal" >***</text>
<rect x="439.4" y="1035.4" width="19.1" height="68.8" fill="url(#mb1)" />
<text x="448.9" y="1033.4" font-size="4.5" text-anchor="middle" fill="#555" font-weight="normal" >***</text>
<rect x="463.5" y="1048.7" width="18.9" height="55.5" fill="url(#mb1)" />
<text x="472.9" y="1046.7" font-size="4.5" text-anchor="middle" fill="#555" font-weight="normal" >***</text>
<rect x="487.3" y="1088.3" width="19.2" height="15.9" fill="url(#mb1)" />
<rect x="511.5" y="1076.8" width="18.8" height="27.4" fill="url(#mb1)" />
<rect x="535.3" y="1104.2" width="19.1" height="20.5" fill="url(#mbn1)" />
<line x1="412.9" y1="1025.5" x2="412.9" y2="1133.0" stroke="#444" stroke-width="0.6" />
<line x1="412.9" y1="1104.2" x2="556.8" y2="1104.2" stroke="#444" stroke-width="0.6" />
<line x1="411.4" y1="1046.9" x2="412.9" y2="1046.9" stroke="#444" stroke-width="0.5" />
<text x="409.9" y="1048.4" font-size="4.2" text-anchor="end" fill="#444" font-weight="normal" >0.8</text>
<line x1="411.4" y1="1061.2" x2="412.9" y2="1061.2" stroke="#444" stroke-width="0.5" />
<text x="409.9" y="1062.7" font-size="4.2" text-anchor="end" fill="#444" font-weight="normal" >0.6</text>
<line x1="411.4" y1="1075.5" x2="412.9" y2="1075.5" stroke="#444" stroke-width="0.5" />
<text x="409.9" y="1077.0" font-size="4.2" text-anchor="end" fill="#444" font-weight="normal" >0.4</text>
<line x1="411.4" y1="1089.9" x2="412.9" y2="1089.9" stroke="#444" stroke-width="0.5" />
<text x="409.9" y="1091.4" font-size="4.2" text-anchor="end" fill="#444" font-weight="normal" >0.2</text>
<line x1="411.4" y1="1104.2" x2="412.9" y2="1104.2" stroke="#444" stroke-width="0.5" />
<text x="409.9" y="1105.7" font-size="4.2" text-anchor="end" fill="#444" font-weight="normal" >0.0</text>
<line x1="411.4" y1="1118.5" x2="412.9" y2="1118.5" stroke="#444" stroke-width="0.5" />
<text x="409.9" y="1120.0" font-size="4.2" text-anchor="end" fill="#444" font-weight="normal" >-0.2</text>
<line x1="411.4" y1="1132.9" x2="412.9" y2="1132.9" stroke="#444" stroke-width="0.5" />
<text x="409.9" y="1134.4" font-size="4.2" text-anchor="end" fill="#444" font-weight="normal" >-0.4</text>
<text x="425.0" y="1109.2" font-size="4.2" text-anchor="middle" fill="#444" font-weight="normal" >pH</text>
<text x="449.0" y="1109.2" font-size="4.2" text-anchor="middle" fill="#444" font-weight="normal" >EC</text>
<text x="473.0" y="1109.2" font-size="4.2" text-anchor="middle" fill="#444" font-weight="normal" >SOM</text>
<text x="497.0" y="1109.2" font-size="4.2" text-anchor="middle" fill="#444" font-weight="normal" >TC</text>
<text x="521.0" y="1109.2" font-size="4.2" text-anchor="middle" fill="#444" font-weight="normal" >TN</text>
<text x="545.0" y="1109.2" font-size="4.2" text-anchor="middle" fill="#444" font-weight="normal" >C/N</text>
<linearGradient id="mb2" x1="0" y1="0" x2="0" y2="1"><stop offset="0" stop-color="#B5E2BF"/><stop offset="1" stop-color="#E6F5E9"/></linearGradient>
<linearGradient id="mbn2" x1="0" y1="0" x2="0" y2="1"><stop offset="0" stop-color="#E6F5E9"/><stop offset="1" stop-color="#B5E2BF"/></linearGradient>
<rect x="753.4" y="1060.1" width="17.8" height="44.8" fill="url(#mb2)" />
<text x="762.3" y="1058.1" font-size="4.5" text-anchor="middle" fill="#555" font-weight="normal" >***</text>
<rect x="776.0" y="1066.4" width="17.9" height="38.5" fill="url(#mb2)" />
<text x="785.0" y="1064.4" font-size="4.5" text-anchor="middle" fill="#555" font-weight="normal" >***</text>
<rect x="798.7" y="1078.3" width="17.9" height="26.6" fill="url(#mb2)" />
<text x="807.7" y="1076.3" font-size="4.5" text-anchor="middle" fill="#555" font-weight="normal" >***</text>
<rect x="821.0" y="1104.9" width="18.0" height="35.1" fill="url(#mbn2)" />
<rect x="843.5" y="1049.4" width="18.2" height="55.5" fill="url(#mb2)" />
<rect x="865.9" y="1074.0" width="17.9" height="30.9" fill="url(#mb2)" />
<line x1="752.0" y1="1038.0" x2="752.0" y2="1150.5" stroke="#444" stroke-width="0.6" />
<line x1="752.0" y1="1104.9" x2="887.0" y2="1104.9" stroke="#444" stroke-width="0.6" />
<line x1="750.5" y1="1045.2" x2="752.0" y2="1045.2" stroke="#444" stroke-width="0.5" />
<text x="749.0" y="1046.7" font-size="4.2" text-anchor="end" fill="#444" font-weight="normal" >0.8</text>
<line x1="750.5" y1="1060.1" x2="752.0" y2="1060.1" stroke="#444" stroke-width="0.5" />
<text x="749.0" y="1061.6" font-size="4.2" text-anchor="end" fill="#444" font-weight="normal" >0.6</text>
<line x1="750.5" y1="1075.0" x2="752.0" y2="1075.0" stroke="#444" stroke-width="0.5" />
<text x="749.0" y="1076.5" font-size="4.2" text-anchor="end" fill="#444" font-weight="normal" >0.4</text>
<line x1="750.5" y1="1090.0" x2="752.0" y2="1090.0" stroke="#444" stroke-width="0.5" />
<text x="749.0" y="1091.5" font-size="4.2" text-anchor="end" fill="#444" font-weight="normal" >0.2</text>
<line x1="750.5" y1="1104.9" x2="752.0" y2="1104.9" stroke="#444" stroke-width="0.5" />
<text x="749.0" y="1106.4" font-size="4.2" text-anchor="end" fill="#444" font-weight="normal" >0.0</text>
<line x1="750.5" y1="1119.8" x2="752.0" y2="1119.8" stroke="#444" stroke-width="0.5" />
<text x="749.0" y="1121.3" font-size="4.2" text-anchor="end" fill="#444" font-weight="normal" >-0.2</text>
<line x1="750.5" y1="1134.8" x2="752.0" y2="1134.8" stroke="#444" stroke-width="0.5" />
<text x="749.0" y="1136.3" font-size="4.2" text-anchor="end" fill="#444" font-weight="normal" >-0.4</text>
<line x1="750.5" y1="1149.7" x2="752.0" y2="1149.7" stroke="#444" stroke-width="0.5" />
<text x="749.0" y="1151.2" font-size="4.2" text-anchor="end" fill="#444" font-weight="normal" >-0.6</text>
<text x="762.0" y="1109.9" font-size="4.2" text-anchor="middle" fill="#444" font-weight="normal" >pH</text>
<text x="785.0" y="1109.9" font-size="4.2" text-anchor="middle" fill="#444" font-weight="normal" >EC</text>
<text x="808.0" y="1109.9" font-size="4.2" text-anchor="middle" fill="#444" font-weight="normal" >SOM</text>
<text x="830.0" y="1109.9" font-size="4.2" text-anchor="middle" fill="#444" font-weight="normal" >TC</text>
<text x="852.6" y="1109.9" font-size="4.2" text-anchor="middle" fill="#444" font-weight="normal" >TN</text>
<text x="875.0" y="1109.9" font-size="4.2" text-anchor="middle" fill="#444" font-weight="normal" >C/N</text>
<line x1="20.5" y1="801.8" x2="644.1" y2="801.8" stroke="#000" stroke-width="3.8" stroke-dasharray="15.5 11.8" stroke-dashoffset="0"/>
<line x1="20.5" y1="1331.2" x2="644.1" y2="1331.2" stroke="#000" stroke-width="3.8" stroke-dasharray="15.5 11.8" stroke-dashoffset="7.6"/>
<line x1="20.5" y1="800.3" x2="20.5" y2="1331.2" stroke="#000" stroke-width="3.8" stroke-dasharray="15.5 11.8" stroke-dashoffset="22.4"/>
<line x1="644.1" y1="800.3" x2="644.1" y2="1331.2" stroke="#000" stroke-width="3.8" stroke-dasharray="15.5 11.8" stroke-dashoffset="0"/>
<line x1="644.1" y1="801.8" x2="1245.7" y2="801.8" stroke="#000" stroke-width="3.8" stroke-dasharray="15.5 11.8" stroke-dashoffset="23.4"/>
<line x1="644.1" y1="1331.2" x2="1245.7" y2="1331.2" stroke="#000" stroke-width="3.8" stroke-dasharray="15.5 11.8" stroke-dashoffset="4.8"/>
<line x1="1245.7" y1="800.3" x2="1245.7" y2="1331.2" stroke="#000" stroke-width="3.8" stroke-dasharray="15.5 11.8" stroke-dashoffset="24.4"/>
<line x1="104.0" y1="950.5" x2="643.5" y2="1041.5" stroke="#686868" stroke-width="1.3" stroke-dasharray="10 4.6 1.2 4 1.2 3.4"/>
<path d="M634.0,1044.7 L643.5,1041.5 L635.6,1035.4" fill="none" stroke="#686868" stroke-width="1.5" stroke-linejoin="miter"/>
<line x1="374.5" y1="952.0" x2="643.5" y2="1041.5" stroke="#FF0000" stroke-width="1.6"/>
<path d="M633.6,1043.2 L643.5,1041.5 L636.6,1034.3" fill="none" stroke="#FF0000" stroke-width="1.8" stroke-linejoin="miter"/>
<line x1="197.8" y1="1114.0" x2="81.0" y2="1208.5" stroke="#FF0000" stroke-width="2.3"/>
<path d="M84.9,1199.3 L81.0,1208.5 L90.8,1206.6" fill="none" stroke="#FF0000" stroke-width="2" stroke-linejoin="miter"/>
<line x1="246.2" y1="1209.0" x2="197.8" y2="1114.5" stroke="#4472C4" stroke-width="1.9"/>
<path d="M206.0,1120.2 L197.8,1114.5 L197.6,1124.5" fill="none" stroke="#4472C4" stroke-width="1.9" stroke-linejoin="miter"/>
<line x1="197.8" y1="1114.0" x2="449.0" y2="1208.5" stroke="#A0A0A0" stroke-width="0.8" stroke-dasharray="2 1.5"/>
<path d="M439.1,1209.8 L449.0,1208.5 L442.4,1201.0" fill="none" stroke="#A0A0A0" stroke-width="0.8" stroke-linejoin="miter"/>
<line x1="637.6" y1="1115.5" x2="449.0" y2="1208.5" stroke="#909090" stroke-width="0.9" stroke-dasharray="2 1.5"/>
<path d="M454.8,1200.4 L449.0,1208.5 L459.0,1208.8" fill="none" stroke="#909090" stroke-width="0.8" stroke-linejoin="miter"/>
<line x1="197.8" y1="1229.8" x2="138.5" y2="1229.8" stroke="#A0A0A0" stroke-width="0.8" stroke-dasharray="3 2"/>
<path d="M147.3,1225.1 L138.5,1229.8 L147.3,1234.5" fill="none" stroke="#A0A0A0" stroke-width="0.8" stroke-linejoin="miter"/>
<line x1="295.0" y1="1228.7" x2="380.7" y2="1228.7" stroke="#FF0000" stroke-width="4.8"/>
<polygon points="393.7,1228.7 378.7,1236.7 378.7,1220.7" fill="#FF0000" stroke="#FF0000" stroke-width="2.5" stroke-linejoin="round"/>
<polyline points="636.1,1115.5 636.1,1274.2 72.9,1274.2 72.9,1251.5" fill="none" stroke="#4472C4" stroke-width="2"/>
<path d="M77.6,1260.3 L72.9,1251.5 L68.2,1260.3" fill="none" stroke="#4472C4" stroke-width="2" stroke-linejoin="miter"/>
<line x1="896.5" y1="953.5" x2="645.5" y2="1041.5" stroke="#6E6E6E" stroke-width="2.2" stroke-dasharray="8 4"/>
<path d="M652.3,1034.1 L645.5,1041.5 L655.4,1043.0" fill="none" stroke="#6E6E6E" stroke-width="2" stroke-linejoin="miter"/>
<line x1="1169.5" y1="954.5" x2="645.5" y2="1041.5" stroke="#808080" stroke-width="1" stroke-dasharray="5 3"/>
<line x1="896.5" y1="953.5" x2="1078.2" y2="1040.5" stroke="#4472C4" stroke-width="2.1"/>
<path d="M1068.2,1040.9 L1078.2,1040.5 L1072.3,1032.5" fill="none" stroke="#4472C4" stroke-width="2.1" stroke-linejoin="miter"/>
<line x1="1169.5" y1="954.5" x2="1078.2" y2="1040.5" stroke="#A0A0A0" stroke-width="0.7"/>
<path d="M1081.4,1031.0 L1078.2,1040.5 L1087.8,1037.9" fill="none" stroke="#A0A0A0" stroke-width="0.8" stroke-linejoin="miter"/>
<line x1="652.5" y1="1115.5" x2="808.7" y2="1208.5" stroke="#6E6E6E" stroke-width="2" stroke-dasharray="8 4"/>
<path d="M798.7,1208.0 L808.7,1208.5 L803.5,1199.9" fill="none" stroke="#6E6E6E" stroke-width="1.8" stroke-linejoin="miter"/>
<line x1="1077.5" y1="1114.0" x2="808.7" y2="1208.5" stroke="#A0A0A0" stroke-width="0.8" stroke-dasharray="2 1.5"/>
<path d="M815.5,1201.1 L808.7,1208.5 L818.6,1210.0" fill="none" stroke="#A0A0A0" stroke-width="0.8" stroke-linejoin="miter"/>
<line x1="1005.6" y1="1210.0" x2="1077.5" y2="1114.5" stroke="#A0A0A0" stroke-width="0.7"/>
<path d="M1075.9,1124.4 L1077.5,1114.5 L1068.4,1118.7" fill="none" stroke="#A0A0A0" stroke-width="0.8" stroke-linejoin="miter"/>
<line x1="1077.5" y1="1114.0" x2="1180.7" y2="1208.5" stroke="#A0A0A0" stroke-width="0.7"/>
<path d="M1171.0,1206.0 L1180.7,1208.5 L1177.4,1199.1" fill="none" stroke="#A0A0A0" stroke-width="0.8" stroke-linejoin="miter"/>
<line x1="1054.2" y1="1229.0" x2="1123.3" y2="1229.0" stroke="#A0A0A0" stroke-width="0.8" stroke-dasharray="3 2"/>
<path d="M1114.5,1233.7 L1123.3,1229.0 L1114.5,1224.3" fill="none" stroke="#A0A0A0" stroke-width="0.8" stroke-linejoin="miter"/>
<line x1="957.5" y1="1228.8" x2="878.7" y2="1228.8" stroke="#FF0000" stroke-width="4.8"/>
<polygon points="865.7,1228.8 880.7,1220.8 880.7,1236.8" fill="#FF0000" stroke="#FF0000" stroke-width="2.5" stroke-linejoin="round"/>
<polyline points="652.5,1115.5 652.5,1274 1189.6,1274 1189.6,1250.5" fill="none" stroke="#FF0000" stroke-width="2"/>
<path d="M1194.3,1259.3 L1189.6,1250.5 L1184.9,1259.3" fill="none" stroke="#FF0000" stroke-width="2" stroke-linejoin="miter"/>
<rect x="59.8" y="901.7" width="85.6" height="47.8" fill="#5BC1EE" />
<text x="102.6" y="937.9" font-size="32" text-anchor="middle" fill="#000" font-weight="normal" >ENR</text>
<rect x="332.8" y="902.4" width="84.7" height="47.9" fill="#5BC1EE" />
<text x="373.9" y="938.3" font-size="32" text-anchor="middle" fill="#000" font-weight="normal" >OTC</text>
<rect x="125.9" y="1040.6" width="144.2" height="73.2" fill="#C5B4E8" />
<text x="198.0" y="1070.8" font-size="26.5" text-anchor="middle" fill="#000" font-weight="normal" >Observed</text>
<text x="198.0" y="1102.5" font-size="26.5" text-anchor="middle" fill="#000" font-weight="normal" >species</text>
<rect x="571.8" y="1042.0" width="144.9" height="73.4" fill="#90DAA8" />
<text x="644.2" y="1071.8" font-size="26.5" text-anchor="middle" fill="#000" font-weight="normal" >Soil</text>
<text x="644.2" y="1103.2" font-size="26.5" text-anchor="middle" fill="#000" font-weight="normal" >properties</text>
<rect x="23.8" y="1209.2" width="114.4" height="41.3" fill="#E0A0A0" />
<text x="81.0" y="1238.5" font-size="26.5" text-anchor="middle" fill="#000" font-weight="normal" >Q-ARGs</text>
<rect x="197.9" y="1209.2" width="96.9" height="41.3" fill="#E0A0A0" />
<text x="242.0" y="1238.8" font-size="26.5" text-anchor="middle" fill="#000" font-weight="normal" >MGEs</text>
<rect x="392.2" y="1209.2" width="114.6" height="41.3" fill="#E0A0A0" />
<text x="446.1" y="1239.1" font-size="26.5" text-anchor="middle" fill="#000" font-weight="normal" >T-ARGs</text>
<line x1="104.0" y1="950.5" x2="186.1" y2="1030.1" stroke="#4472C4" stroke-width="7"/>
<polygon points="195.8,1039.5 178.1,1035.5 191.3,1021.9" fill="#4472C4" stroke="#4472C4" stroke-width="4" stroke-linejoin="round"/>
<line x1="374.5" y1="952.0" x2="211.5" y2="1032.5" stroke="#FF0000" stroke-width="8.7"/>
<polygon points="196.3,1040.0 207.8,1020.4 218.9,1042.8" fill="#FF0000" stroke="#FF0000" stroke-width="4.5" stroke-linejoin="round"/>
<rect x="854.8" y="904.8" width="85.1" height="48.2" fill="#5BC1EE" />
<text x="897.3" y="940.5" font-size="32" text-anchor="middle" fill="#000" font-weight="normal" >OTC</text>
<rect x="1127.3" y="906.0" width="85.6" height="48.0" fill="#5BC1EE" />
<text x="1170.1" y="941.5" font-size="32" text-anchor="middle" fill="#000" font-weight="normal" >ENR</text>
<rect x="1005.4" y="1040.5" width="144.6" height="73.2" fill="#C5B4E8" />
<text x="1077.7" y="1070.6" font-size="26.5" text-anchor="middle" fill="#000" font-weight="normal" >Observed</text>
<text x="1077.7" y="1102.3" font-size="26.5" text-anchor="middle" fill="#000" font-weight="normal" >species</text>
<rect x="751.6" y="1209.0" width="114.1" height="40.6" fill="#E0A0A0" />
<text x="806.2" y="1238.6" font-size="26.5" text-anchor="middle" fill="#000" font-weight="normal" >T-ARGs</text>
<rect x="957.5" y="1210.5" width="96.7" height="40.6" fill="#E0A0A0" />
<text x="1002.6" y="1240.0" font-size="26.5" text-anchor="middle" fill="#000" font-weight="normal" >MGEs</text>
<rect x="1123.6" y="1209.0" width="115.1" height="40.6" fill="#E0A0A0" />
<text x="1181.2" y="1238.6" font-size="26.5" text-anchor="middle" fill="#000" font-weight="normal" >Q-ARGs</text>
<text x="0" y="0" dy="0.35em" font-size="23.5" font-weight="bold" fill="#4472C4" text-anchor="middle" transform="translate(123.5,997.5) rotate(50)">-1.129***</text>
<text x="0" y="0" dy="0.35em" font-size="24" font-weight="bold" fill="#FF0000" text-anchor="middle" transform="translate(266.0,985.0) rotate(-33)">1.307***</text>
<text x="0" y="0" dy="0.35em" font-size="23" font-weight="bold" fill="#000" text-anchor="middle" transform="translate(351.3,1007.7) rotate(13)">0.250</text>
<text x="0" y="0" dy="0.35em" font-size="23" font-weight="bold" fill="#FF0000" text-anchor="middle" transform="translate(499.0,968.0) rotate(17)">0.318*</text>
<text x="0" y="0" dy="0.35em" font-size="23" font-weight="bold" fill="#FF0000" text-anchor="middle" transform="translate(115.0,1167.0) rotate(-46)">0.306*</text>
<text x="0" y="0" dy="0.35em" font-size="23" font-weight="bold" fill="#4472C4" text-anchor="middle" transform="translate(238.5,1169.5) rotate(61)">-0.341*</text>
<text x="0" y="0" dy="0.35em" font-size="23" font-weight="bold" fill="#000" text-anchor="middle" transform="translate(344.3,1155.4) rotate(24)">0.034</text>
<text x="0" y="0" dy="0.35em" font-size="23" font-weight="bold" fill="#000" text-anchor="middle" transform="translate(547.8,1176.3) rotate(-27)">0.053</text>
<text x="171.2" y="1224.0" font-size="23" text-anchor="middle" fill="#000" font-weight="bold" >0.050</text>
<text x="341.4" y="1225.7" font-size="23" text-anchor="middle" fill="#FF0000" font-weight="bold" >0.750***</text>
<text x="340.8" y="1307.1" font-size="23" text-anchor="middle" fill="#4472C4" font-weight="bold" >-0.287*</text>
<text x="0" y="0" dy="0.35em" font-size="23" font-weight="bold" fill="#000" text-anchor="middle" transform="translate(754.8,979.9) rotate(-25)">-0.206</text>
<text x="0" y="0" dy="0.35em" font-size="23" font-weight="bold" fill="#4472C4" text-anchor="middle" transform="translate(977.0,973.0) rotate(27)">-0.464*</text>
<text x="0" y="0" dy="0.35em" font-size="23" font-weight="bold" fill="#000" text-anchor="middle" transform="translate(1063.4,949.9) rotate(-8)">-0.148</text>
<text x="0" y="0" dy="0.35em" font-size="23" font-weight="bold" fill="#000" text-anchor="middle" transform="translate(1152.4,1009.2) rotate(-47)">-0.154</text>
<text x="0" y="0" dy="0.35em" font-size="23" font-weight="bold" fill="#000" text-anchor="middle" transform="translate(707.0,1171.8) rotate(38)">0.242</text>
<text x="0" y="0" dy="0.35em" font-size="23" font-weight="bold" fill="#000" text-anchor="middle" transform="translate(922.7,1149.4) rotate(-18)">0.053</text>
<text x="0" y="0" dy="0.35em" font-size="23" font-weight="bold" fill="#000" text-anchor="middle" transform="translate(1015.0,1173.0) rotate(-50)">0.180</text>
<text x="0" y="0" dy="0.35em" font-size="23" font-weight="bold" fill="#000" text-anchor="middle" transform="translate(1146.0,1159.4) rotate(48)">-0.187</text>
<text x="912.1" y="1215.0" font-size="23" text-anchor="middle" fill="#FF0000" font-weight="bold" >0.738***</text>
<text x="1088.5" y="1218.9" font-size="23" text-anchor="middle" fill="#000" font-weight="bold" >-0.059</text>
<text x="895.5" y="1307.2" font-size="23" text-anchor="middle" fill="#FF0000" font-weight="bold" >0.281*</text>
<text x="32.3" y="837.0" font-size="27" text-anchor="start" fill="#000" font-weight="normal" >(g)</text>
<text x="657.4" y="835.7" font-size="27" text-anchor="start" fill="#000" font-weight="normal" >(h)</text>
</svg></body></html>
